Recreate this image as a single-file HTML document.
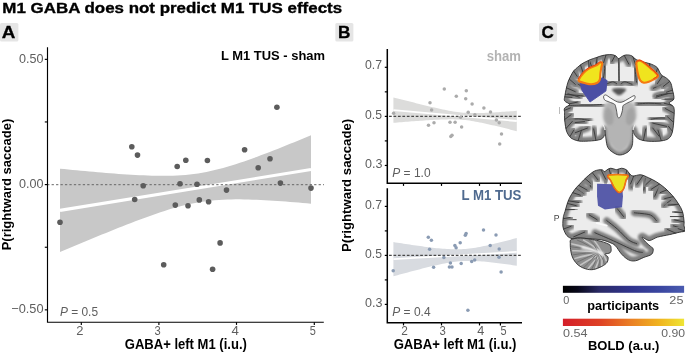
<!DOCTYPE html>
<html><head><meta charset="utf-8"><style>
html,body{margin:0;padding:0;background:#fff;}
svg{display:block;font-family:"Liberation Sans", sans-serif;}
text{opacity:0.999;}
</style></head><body>
<svg width="685" height="353" viewBox="0 0 685 353">
<text x="2.36" y="12.60" font-size="15.3" font-weight="bold" font-style="normal" fill="#000" textLength="339.76" lengthAdjust="spacingAndGlyphs" stroke="#000" stroke-width="0.35">M1 GABA does not predict M1 TUS effects</text>
<rect x="0" y="22.9" width="18.40" height="18.6" rx="1.5" fill="#e5e5e5"/>
<text x="1.83" y="37.80" font-size="16.2" font-weight="bold" font-style="normal" fill="#000" textLength="13.58" lengthAdjust="spacingAndGlyphs" stroke="#000" stroke-width="0.3">A</text>
<rect x="335.3" y="22.9" width="18.10" height="18.6" rx="1.5" fill="#e5e5e5"/>
<text x="338.14" y="37.80" font-size="16.2" font-weight="bold" font-style="normal" fill="#000" textLength="12.43" lengthAdjust="spacingAndGlyphs" stroke="#000" stroke-width="0.3">B</text>
<rect x="539" y="22.9" width="18.10" height="18.6" rx="1.5" fill="#e5e5e5"/>
<text x="541.42" y="37.80" font-size="16.2" font-weight="bold" font-style="normal" fill="#000" textLength="12.35" lengthAdjust="spacingAndGlyphs" stroke="#000" stroke-width="0.3">C</text>
<path d="M60.00,168.70 L64.18,169.11 L68.37,169.52 L72.55,169.92 L76.73,170.32 L80.92,170.71 L85.10,171.09 L89.28,171.47 L93.47,171.85 L97.65,172.21 L101.83,172.57 L106.02,172.91 L110.20,173.25 L114.38,173.57 L118.57,173.88 L122.75,174.18 L126.93,174.46 L131.12,174.72 L135.30,174.96 L139.48,175.18 L143.67,175.37 L147.85,175.53 L152.03,175.66 L156.22,175.75 L160.40,175.80 L164.58,175.80 L168.77,175.75 L172.95,175.64 L177.13,175.46 L181.32,175.22 L185.50,174.89 L189.68,174.48 L193.87,173.98 L198.05,173.39 L202.23,172.70 L206.42,171.92 L210.60,171.05 L214.78,170.09 L218.97,169.05 L223.15,167.93 L227.33,166.74 L231.52,165.48 L235.70,164.16 L239.88,162.79 L244.07,161.38 L248.25,159.92 L252.43,158.43 L256.62,156.90 L260.80,155.34 L264.98,153.76 L269.17,152.15 L273.35,150.53 L277.53,148.88 L281.72,147.22 L285.90,145.55 L290.08,143.86 L294.27,142.16 L298.45,140.45 L302.63,138.73 L306.82,137.00 L311.00,135.26 L311.00,203.71 L306.82,203.34 L302.63,202.97 L298.45,202.62 L294.27,202.27 L290.08,201.93 L285.90,201.61 L281.72,201.30 L277.53,201.00 L273.35,200.72 L269.17,200.46 L264.98,200.22 L260.80,200.00 L256.62,199.81 L252.43,199.64 L248.25,199.51 L244.07,199.42 L239.88,199.36 L235.70,199.36 L231.52,199.41 L227.33,199.51 L223.15,199.68 L218.97,199.93 L214.78,200.25 L210.60,200.65 L206.42,201.14 L202.23,201.73 L198.05,202.41 L193.87,203.18 L189.68,204.05 L185.50,205.00 L181.32,206.04 L177.13,207.15 L172.95,208.34 L168.77,209.59 L164.58,210.91 L160.40,212.27 L156.22,213.68 L152.03,215.14 L147.85,216.63 L143.67,218.16 L139.48,219.71 L135.30,221.29 L131.12,222.90 L126.93,224.52 L122.75,226.17 L118.57,227.83 L114.38,229.50 L110.20,231.19 L106.02,232.89 L101.83,234.60 L97.65,236.32 L93.47,238.04 L89.28,239.78 L85.10,241.52 L80.92,243.27 L76.73,245.03 L72.55,246.79 L68.37,248.56 L64.18,250.33 L60.00,252.10Z" fill="#c8c8c8"/>
<line x1="60" y1="210.4" x2="311" y2="169.487" stroke="#fff" stroke-width="3.1" />
<line x1="47.5" y1="184.7" x2="324" y2="184.7" stroke="#666" stroke-width="1" stroke-dasharray="2.3 2.15" stroke-dashoffset="0.35"/>
<circle cx="60" cy="222.3" r="2.8" fill="#5c5c5c"/>
<circle cx="131.8" cy="146.7" r="2.8" fill="#5c5c5c"/>
<circle cx="137.5" cy="155.1" r="2.8" fill="#5c5c5c"/>
<circle cx="143.2" cy="185.8" r="2.8" fill="#5c5c5c"/>
<circle cx="134.7" cy="199.5" r="2.8" fill="#5c5c5c"/>
<circle cx="175.3" cy="205.1" r="2.8" fill="#5c5c5c"/>
<circle cx="177.2" cy="166.5" r="2.8" fill="#5c5c5c"/>
<circle cx="180" cy="183.8" r="2.8" fill="#5c5c5c"/>
<circle cx="185.8" cy="160.3" r="2.8" fill="#5c5c5c"/>
<circle cx="188" cy="205.7" r="2.8" fill="#5c5c5c"/>
<circle cx="197" cy="184.2" r="2.8" fill="#5c5c5c"/>
<circle cx="199.3" cy="199.9" r="2.8" fill="#5c5c5c"/>
<circle cx="207.4" cy="160.5" r="2.8" fill="#5c5c5c"/>
<circle cx="208.6" cy="201.7" r="2.8" fill="#5c5c5c"/>
<circle cx="226.5" cy="190.1" r="2.8" fill="#5c5c5c"/>
<circle cx="244.6" cy="149.8" r="2.8" fill="#5c5c5c"/>
<circle cx="258.2" cy="167.8" r="2.8" fill="#5c5c5c"/>
<circle cx="270" cy="158.7" r="2.8" fill="#5c5c5c"/>
<circle cx="276.9" cy="107.2" r="2.8" fill="#5c5c5c"/>
<circle cx="280.4" cy="183.1" r="2.8" fill="#5c5c5c"/>
<circle cx="311" cy="188.1" r="2.8" fill="#5c5c5c"/>
<circle cx="163.7" cy="264.7" r="2.8" fill="#5c5c5c"/>
<circle cx="212.6" cy="269.2" r="2.8" fill="#5c5c5c"/>
<circle cx="220.1" cy="242.9" r="2.8" fill="#5c5c5c"/>
<path d="M47.5,47.2 V322.2 H323.8" fill="none" stroke="#000" stroke-width="1.15"/>
<line x1="44.8" y1="59.35" x2="47.5" y2="59.35" stroke="#000" stroke-width="1.15" />
<line x1="44.8" y1="121.95" x2="47.5" y2="121.95" stroke="#000" stroke-width="1.15" />
<line x1="44.8" y1="184.6" x2="47.5" y2="184.6" stroke="#000" stroke-width="1.15" />
<line x1="44.8" y1="247.25" x2="47.5" y2="247.25" stroke="#000" stroke-width="1.15" />
<line x1="44.8" y1="309.85" x2="47.5" y2="309.85" stroke="#000" stroke-width="1.15" />
<line x1="81.3" y1="322.2" x2="81.3" y2="324.9" stroke="#000" stroke-width="1.15" />
<line x1="158.9" y1="322.2" x2="158.9" y2="324.9" stroke="#000" stroke-width="1.15" />
<line x1="236.5" y1="322.2" x2="236.5" y2="324.9" stroke="#000" stroke-width="1.15" />
<line x1="314.3" y1="322.2" x2="314.3" y2="324.9" stroke="#000" stroke-width="1.15" />
<text x="19.10" y="62.70" font-size="12.7" font-weight="normal" font-style="normal" fill="#5e5e5e" textLength="24.49" lengthAdjust="spacingAndGlyphs" >0.50</text>
<text x="19.10" y="187.95" font-size="12.7" font-weight="normal" font-style="normal" fill="#5e5e5e" textLength="24.49" lengthAdjust="spacingAndGlyphs" >0.00</text>
<text x="11.26" y="313.10" font-size="12.7" font-weight="normal" font-style="normal" fill="#5e5e5e" textLength="32.32" lengthAdjust="spacingAndGlyphs" >−0.50</text>
<text x="76.15" y="334.50" font-size="12.7" font-weight="normal" font-style="normal" fill="#5e5e5e" textLength="7.21" lengthAdjust="spacingAndGlyphs" >2</text>
<text x="154.48" y="334.50" font-size="12.7" font-weight="normal" font-style="normal" fill="#5e5e5e" textLength="6.21" lengthAdjust="spacingAndGlyphs" >3</text>
<text x="231.60" y="334.50" font-size="12.7" font-weight="normal" font-style="normal" fill="#5e5e5e" textLength="7.38" lengthAdjust="spacingAndGlyphs" >4</text>
<text x="309.66" y="334.50" font-size="12.7" font-weight="normal" font-style="normal" fill="#5e5e5e" textLength="6.09" lengthAdjust="spacingAndGlyphs" >5</text>
<text x="221.03" y="59.60" font-size="13.6" font-weight="bold" font-style="normal" fill="#000" textLength="103.97" lengthAdjust="spacingAndGlyphs" >L M1 TUS - sham</text>
<text x="59.95" y="316" font-size="12.2" fill="#5e5e5e" textLength="38.07" lengthAdjust="spacingAndGlyphs"><tspan font-style="italic">P</tspan> = 0.5</text>
<text x="124.78" y="349.00" font-size="13.8" font-weight="bold" font-style="normal" fill="#000" textLength="122.09" lengthAdjust="spacingAndGlyphs" >GABA+ left M1 (i.u.)</text>
<text transform="translate(10.90,249.50) rotate(-90)" x="-0.88" y="0" font-size="12.6" font-weight="bold" fill="#000" textLength="131.72" lengthAdjust="spacingAndGlyphs">P(rightward saccade)</text>
<path d="M393.40,97.38 L395.46,97.91 L397.51,98.43 L399.57,98.96 L401.63,99.49 L403.68,100.01 L405.74,100.53 L407.80,101.06 L409.85,101.58 L411.91,102.10 L413.97,102.61 L416.02,103.13 L418.08,103.64 L420.14,104.15 L422.19,104.65 L424.25,105.16 L426.31,105.66 L428.36,106.15 L430.42,106.64 L432.48,107.13 L434.53,107.61 L436.59,108.08 L438.65,108.54 L440.70,108.99 L442.76,109.43 L444.82,109.86 L446.87,110.27 L448.93,110.66 L450.99,111.04 L453.04,111.39 L455.10,111.71 L457.16,112.00 L459.21,112.26 L461.27,112.49 L463.33,112.67 L465.38,112.83 L467.44,112.94 L469.50,113.03 L471.55,113.08 L473.61,113.10 L475.67,113.10 L477.72,113.08 L479.78,113.04 L481.84,112.98 L483.89,112.91 L485.95,112.82 L488.01,112.73 L490.06,112.62 L492.12,112.51 L494.18,112.39 L496.23,112.27 L498.29,112.14 L500.35,112.00 L502.40,111.87 L504.46,111.72 L506.52,111.58 L508.57,111.43 L510.63,111.28 L512.69,111.13 L514.74,110.97 L516.80,110.82 L516.80,131.18 L514.74,130.66 L512.69,130.15 L510.63,129.63 L508.57,129.12 L506.52,128.61 L504.46,128.10 L502.40,127.59 L500.35,127.09 L498.29,126.59 L496.23,126.10 L494.18,125.61 L492.12,125.13 L490.06,124.65 L488.01,124.18 L485.95,123.73 L483.89,123.28 L481.84,122.84 L479.78,122.42 L477.72,122.02 L475.67,121.63 L473.61,121.27 L471.55,120.93 L469.50,120.62 L467.44,120.34 L465.38,120.09 L463.33,119.88 L461.27,119.70 L459.21,119.57 L457.16,119.46 L455.10,119.39 L453.04,119.35 L450.99,119.34 L448.93,119.35 L446.87,119.38 L444.82,119.42 L442.76,119.49 L440.70,119.57 L438.65,119.66 L436.59,119.75 L434.53,119.86 L432.48,119.98 L430.42,120.10 L428.36,120.22 L426.31,120.36 L424.25,120.49 L422.19,120.63 L420.14,120.78 L418.08,120.92 L416.02,121.07 L413.97,121.22 L411.91,121.37 L409.85,121.53 L407.80,121.69 L405.74,121.85 L403.68,122.01 L401.63,122.17 L399.57,122.33 L397.51,122.49 L395.46,122.66 L393.40,122.82Z" fill="#dcdcdb"/>
<line x1="393.4" y1="110.1" x2="516.8" y2="121" stroke="#fff" stroke-width="1.8" />
<line x1="387.3" y1="116.4" x2="521.5" y2="116.4" stroke="#484848" stroke-width="1.1" stroke-dasharray="2.7 1.75" stroke-dashoffset="2.7"/>
<circle cx="393.6" cy="113.3" r="1.75" fill="#ababab"/>
<circle cx="430" cy="102.7" r="1.75" fill="#ababab"/>
<circle cx="431.6" cy="110" r="1.75" fill="#ababab"/>
<circle cx="428.5" cy="125.2" r="1.75" fill="#ababab"/>
<circle cx="434" cy="122.7" r="1.75" fill="#ababab"/>
<circle cx="444.3" cy="89" r="1.75" fill="#ababab"/>
<circle cx="450" cy="122.3" r="1.75" fill="#ababab"/>
<circle cx="455.1" cy="122.3" r="1.75" fill="#ababab"/>
<circle cx="450.8" cy="136.6" r="1.75" fill="#ababab"/>
<circle cx="452" cy="135.2" r="1.75" fill="#ababab"/>
<circle cx="456.3" cy="96.3" r="1.75" fill="#ababab"/>
<circle cx="460.6" cy="117.2" r="1.75" fill="#ababab"/>
<circle cx="461.6" cy="127" r="1.75" fill="#ababab"/>
<circle cx="466.3" cy="90.8" r="1.75" fill="#ababab"/>
<circle cx="465.7" cy="98.8" r="1.75" fill="#ababab"/>
<circle cx="468.2" cy="112.3" r="1.75" fill="#ababab"/>
<circle cx="472.1" cy="103.9" r="1.75" fill="#ababab"/>
<circle cx="474.9" cy="114.7" r="1.75" fill="#ababab"/>
<circle cx="483.9" cy="108" r="1.75" fill="#ababab"/>
<circle cx="490.5" cy="111.9" r="1.75" fill="#ababab"/>
<circle cx="496.4" cy="119.9" r="1.75" fill="#ababab"/>
<circle cx="499.2" cy="122.7" r="1.75" fill="#ababab"/>
<circle cx="501.5" cy="134" r="1.75" fill="#ababab"/>
<circle cx="499.7" cy="144" r="1.75" fill="#ababab"/>
<path d="M387.3,49.1 V183.3 H522" fill="none" stroke="#000" stroke-width="1.5"/>
<line x1="384.8" y1="67.3" x2="387.3" y2="67.3" stroke="#000" stroke-width="1.2" />
<line x1="384.8" y1="91.85" x2="387.3" y2="91.85" stroke="#000" stroke-width="1.2" />
<line x1="384.8" y1="116.4" x2="387.3" y2="116.4" stroke="#000" stroke-width="1.2" />
<line x1="384.8" y1="140.9" x2="387.3" y2="140.9" stroke="#000" stroke-width="1.2" />
<line x1="384.8" y1="165.45" x2="387.3" y2="165.45" stroke="#000" stroke-width="1.2" />
<line x1="403.5" y1="183.3" x2="403.5" y2="185.9" stroke="#000" stroke-width="1.2" />
<line x1="441.5" y1="183.3" x2="441.5" y2="185.9" stroke="#000" stroke-width="1.2" />
<line x1="479.5" y1="183.3" x2="479.5" y2="185.9" stroke="#000" stroke-width="1.2" />
<line x1="500.4" y1="183.3" x2="500.4" y2="185.9" stroke="#000" stroke-width="1.2" />
<text x="365.01" y="69.40" font-size="12.8" font-weight="normal" font-style="normal" fill="#5e5e5e" textLength="17.11" lengthAdjust="spacingAndGlyphs" >0.7</text>
<text x="365.01" y="118.50" font-size="12.8" font-weight="normal" font-style="normal" fill="#5e5e5e" textLength="16.98" lengthAdjust="spacingAndGlyphs" >0.5</text>
<text x="365.00" y="167.55" font-size="12.8" font-weight="normal" font-style="normal" fill="#5e5e5e" textLength="17.44" lengthAdjust="spacingAndGlyphs" >0.3</text>
<text x="486.64" y="61.00" font-size="13.8" font-weight="bold" font-style="normal" fill="#b3b3b3" textLength="34.28" lengthAdjust="spacingAndGlyphs" >sham</text>
<text x="392.3" y="177" font-size="12.2" fill="#5e5e5e" textLength="38.3" lengthAdjust="spacingAndGlyphs"><tspan font-style="italic">P</tspan> = 1.0</text>
<path d="M393.40,242.08 L395.46,242.41 L397.51,242.73 L399.57,243.05 L401.63,243.37 L403.68,243.68 L405.74,243.99 L407.80,244.30 L409.85,244.61 L411.91,244.91 L413.97,245.21 L416.02,245.51 L418.08,245.80 L420.14,246.09 L422.19,246.37 L424.25,246.65 L426.31,246.92 L428.36,247.18 L430.42,247.43 L432.48,247.68 L434.53,247.91 L436.59,248.13 L438.65,248.34 L440.70,248.53 L442.76,248.71 L444.82,248.87 L446.87,249.01 L448.93,249.12 L450.99,249.21 L453.04,249.27 L455.10,249.30 L457.16,249.29 L459.21,249.25 L461.27,249.18 L463.33,249.06 L465.38,248.91 L467.44,248.72 L469.50,248.50 L471.55,248.24 L473.61,247.95 L475.67,247.63 L477.72,247.28 L479.78,246.91 L481.84,246.51 L483.89,246.10 L485.95,245.67 L488.01,245.22 L490.06,244.76 L492.12,244.29 L494.18,243.80 L496.23,243.31 L498.29,242.81 L500.35,242.30 L502.40,241.78 L504.46,241.26 L506.52,240.73 L508.57,240.20 L510.63,239.66 L512.69,239.12 L514.74,238.57 L516.80,238.02 L516.80,265.78 L514.74,265.47 L512.69,265.17 L510.63,264.87 L508.57,264.58 L506.52,264.29 L504.46,264.00 L502.40,263.72 L500.35,263.45 L498.29,263.18 L496.23,262.92 L494.18,262.67 L492.12,262.43 L490.06,262.20 L488.01,261.99 L485.95,261.78 L483.89,261.59 L481.84,261.42 L479.78,261.27 L477.72,261.15 L475.67,261.04 L473.61,260.96 L471.55,260.92 L469.50,260.90 L467.44,260.92 L465.38,260.97 L463.33,261.07 L461.27,261.19 L459.21,261.36 L457.16,261.56 L455.10,261.80 L453.04,262.07 L450.99,262.38 L448.93,262.71 L446.87,263.07 L444.82,263.45 L442.76,263.85 L440.70,264.27 L438.65,264.71 L436.59,265.16 L434.53,265.62 L432.48,266.10 L430.42,266.59 L428.36,267.09 L426.31,267.59 L424.25,268.10 L422.19,268.62 L420.14,269.15 L418.08,269.68 L416.02,270.21 L413.97,270.75 L411.91,271.30 L409.85,271.84 L407.80,272.39 L405.74,272.95 L403.68,273.50 L401.63,274.06 L399.57,274.62 L397.51,275.18 L395.46,275.75 L393.40,276.32Z" fill="#d8dbe0"/>
<line x1="393.4" y1="259.2" x2="516.8" y2="251.9" stroke="#fff" stroke-width="1.8" />
<line x1="387.3" y1="255.4" x2="521.5" y2="255.4" stroke="#484848" stroke-width="1.1" stroke-dasharray="2.7 1.75" stroke-dashoffset="2.7"/>
<circle cx="393.2" cy="270.7" r="1.75" fill="#8a9bb3"/>
<circle cx="428.3" cy="237.2" r="1.75" fill="#8a9bb3"/>
<circle cx="431.4" cy="240.2" r="1.75" fill="#8a9bb3"/>
<circle cx="429.6" cy="249.2" r="1.75" fill="#8a9bb3"/>
<circle cx="433.6" cy="267.2" r="1.75" fill="#8a9bb3"/>
<circle cx="443.9" cy="257.4" r="1.75" fill="#8a9bb3"/>
<circle cx="450.4" cy="262.9" r="1.75" fill="#8a9bb3"/>
<circle cx="449.4" cy="267" r="1.75" fill="#8a9bb3"/>
<circle cx="452" cy="267" r="1.75" fill="#8a9bb3"/>
<circle cx="454.9" cy="245.5" r="1.75" fill="#8a9bb3"/>
<circle cx="456.1" cy="247.8" r="1.75" fill="#8a9bb3"/>
<circle cx="460.2" cy="242.7" r="1.75" fill="#8a9bb3"/>
<circle cx="461.2" cy="263.5" r="1.75" fill="#8a9bb3"/>
<circle cx="465.3" cy="235.3" r="1.75" fill="#8a9bb3"/>
<circle cx="466.1" cy="233.5" r="1.75" fill="#8a9bb3"/>
<circle cx="471.7" cy="261.5" r="1.75" fill="#8a9bb3"/>
<circle cx="474.7" cy="260.1" r="1.75" fill="#8a9bb3"/>
<circle cx="483.5" cy="230" r="1.75" fill="#8a9bb3"/>
<circle cx="490.2" cy="245.5" r="1.75" fill="#8a9bb3"/>
<circle cx="496" cy="234.9" r="1.75" fill="#8a9bb3"/>
<circle cx="499.2" cy="249" r="1.75" fill="#8a9bb3"/>
<circle cx="499" cy="257.2" r="1.75" fill="#8a9bb3"/>
<circle cx="501.1" cy="271.9" r="1.75" fill="#8a9bb3"/>
<circle cx="467.9" cy="310.2" r="1.75" fill="#8a9bb3"/>
<path d="M387.3,188.2 V322.8 H522" fill="none" stroke="#000" stroke-width="1.5"/>
<line x1="384.8" y1="206.4" x2="387.3" y2="206.4" stroke="#000" stroke-width="1.2" />
<line x1="384.8" y1="230.9" x2="387.3" y2="230.9" stroke="#000" stroke-width="1.2" />
<line x1="384.8" y1="255.4" x2="387.3" y2="255.4" stroke="#000" stroke-width="1.2" />
<line x1="384.8" y1="279.9" x2="387.3" y2="279.9" stroke="#000" stroke-width="1.2" />
<line x1="384.8" y1="304.4" x2="387.3" y2="304.4" stroke="#000" stroke-width="1.2" />
<line x1="403.5" y1="322.8" x2="403.5" y2="325.40000000000003" stroke="#000" stroke-width="1.2" />
<line x1="441.5" y1="322.8" x2="441.5" y2="325.40000000000003" stroke="#000" stroke-width="1.2" />
<line x1="479.5" y1="322.8" x2="479.5" y2="325.40000000000003" stroke="#000" stroke-width="1.2" />
<line x1="500.4" y1="322.8" x2="500.4" y2="325.40000000000003" stroke="#000" stroke-width="1.2" />
<text x="365.01" y="208.50" font-size="12.8" font-weight="normal" font-style="normal" fill="#5e5e5e" textLength="17.11" lengthAdjust="spacingAndGlyphs" >0.7</text>
<text x="365.01" y="257.50" font-size="12.8" font-weight="normal" font-style="normal" fill="#5e5e5e" textLength="16.98" lengthAdjust="spacingAndGlyphs" >0.5</text>
<text x="365.00" y="306.50" font-size="12.8" font-weight="normal" font-style="normal" fill="#5e5e5e" textLength="17.44" lengthAdjust="spacingAndGlyphs" >0.3</text>
<text x="461.41" y="200.00" font-size="13.8" font-weight="bold" font-style="normal" fill="#4f6a8f" textLength="60.03" lengthAdjust="spacingAndGlyphs" >L M1 TUS</text>
<text x="392.3" y="315.8" font-size="12.2" fill="#5e5e5e" textLength="38.3" lengthAdjust="spacingAndGlyphs"><tspan font-style="italic">P</tspan> = 0.4</text>
<text x="401.21" y="334.50" font-size="12.7" font-weight="normal" font-style="normal" fill="#5e5e5e" textLength="6.60" lengthAdjust="spacingAndGlyphs" >2</text>
<text x="439.47" y="334.50" font-size="12.7" font-weight="normal" font-style="normal" fill="#5e5e5e" textLength="6.32" lengthAdjust="spacingAndGlyphs" >3</text>
<text x="477.31" y="334.50" font-size="12.7" font-weight="normal" font-style="normal" fill="#5e5e5e" textLength="7.05" lengthAdjust="spacingAndGlyphs" >4</text>
<text x="500.56" y="334.50" font-size="12.7" font-weight="normal" font-style="normal" fill="#5e5e5e" textLength="6.09" lengthAdjust="spacingAndGlyphs" >5</text>
<text x="393.68" y="348.80" font-size="13.8" font-weight="bold" font-style="normal" fill="#000" textLength="122.80" lengthAdjust="spacingAndGlyphs" >GABA+ left M1 (i.u.)</text>
<text transform="translate(350.80,251.10) rotate(-90)" x="-0.89" y="0" font-size="12.6" font-weight="bold" fill="#000" textLength="133.14" lengthAdjust="spacingAndGlyphs">P(rightward saccade)</text>
<defs>
<filter id="bl1" x="-30%" y="-30%" width="160%" height="160%"><feGaussianBlur stdDeviation="6"/></filter>
<filter id="bl2" x="-30%" y="-30%" width="160%" height="160%"><feGaussianBlur stdDeviation="3.2"/></filter>
<filter id="bl4" x="-30%" y="-30%" width="160%" height="160%"><feGaussianBlur stdDeviation="1.6"/></filter>
</defs>
<g transform="translate(560,50) scale(0.3061)">
<clipPath id="ccl"><path d="M191,28 C187.7,27.8 187.0,22.2 183.0,20.0 C179.0,17.8 174.3,15.3 167.0,15.0 C159.7,14.7 147.2,16.3 139.0,18.0 C130.8,19.7 124.5,22.8 118.0,25.0 C111.5,27.2 105.5,28.8 100.0,31.0 C94.5,33.2 89.7,35.7 85.0,38.0 C80.3,40.3 76.5,42.0 72.0,45.0 C67.5,48.0 62.5,52.2 58.0,56.0 C53.5,59.8 48.8,63.2 45.0,68.0 C41.2,72.8 38.2,78.8 35.0,85.0 C31.8,91.2 28.5,97.8 26.0,105.0 C23.5,112.2 21.7,120.5 20.0,128.0 C18.3,135.5 16.8,143.7 16.0,150.0 C15.2,156.3 12.5,161.3 15.0,166.0 C17.5,170.7 31.0,174.0 31.0,178.0 C31.0,182.0 17.7,185.5 15.0,190.0 C12.3,194.5 15.0,199.2 15.0,205.0 C15.0,210.8 14.5,217.5 15.0,225.0 C15.5,232.5 16.8,243.0 18.0,250.0 C19.2,257.0 20.0,261.8 22.0,267.0 C24.0,272.2 27.0,277.2 30.0,281.0 C33.0,284.8 35.0,287.3 40.0,290.0 C45.0,292.7 52.7,295.7 60.0,297.0 C67.3,298.3 74.0,298.3 84.0,298.0 C94.0,297.7 111.0,296.5 120.0,295.0 C129.0,293.5 133.7,292.2 138.0,289.0 C142.3,285.8 144.5,280.5 146.0,276.0 C147.5,271.5 146.3,259.7 147.0,262.0 C147.7,264.3 148.5,280.7 150.0,290.0 C151.5,299.3 152.3,310.7 156.0,318.0 C159.7,325.3 165.8,329.8 172.0,334.0 C178.2,338.2 186.0,342.3 193.0,343.0 C200.0,343.7 208.0,340.8 214.0,338.0 C220.0,335.2 225.2,331.3 229.0,326.0 C232.8,320.7 235.5,316.7 237.0,306.0 C238.5,295.3 237.0,267.0 238.0,262.0 C239.0,257.0 239.7,271.2 243.0,276.0 C246.3,280.8 250.5,287.3 258.0,291.0 C265.5,294.7 276.0,297.0 288.0,298.0 C300.0,299.0 318.8,298.5 330.0,297.0 C341.2,295.5 348.8,293.8 355.0,289.0 C361.2,284.2 364.2,278.5 367.0,268.0 C369.8,257.5 371.2,239.3 372.0,226.0 C372.8,212.7 374.7,196.8 372.0,188.0 C369.3,179.2 356.0,177.7 356.0,173.0 C356.0,168.3 370.2,167.5 372.0,160.0 C373.8,152.5 368.8,137.0 367.0,128.0 C365.2,119.0 364.2,112.0 361.0,106.0 C357.8,100.0 353.2,96.3 348.0,92.0 C342.8,87.7 335.0,85.7 330.0,80.0 C325.0,74.3 323.0,63.5 318.0,58.0 C313.0,52.5 307.0,50.0 300.0,47.0 C293.0,44.0 284.3,42.5 276.0,40.0 C267.7,37.5 257.0,35.5 250.0,32.0 C243.0,28.5 239.7,21.7 234.0,19.0 C228.3,16.3 221.2,15.7 216.0,16.0 C210.8,16.3 207.2,19.0 203.0,21.0 C198.8,23.0 194.3,28.2 191.0,28.0Z"/></clipPath>
<path d="M191,28 C187.7,27.8 187.0,22.2 183.0,20.0 C179.0,17.8 174.3,15.3 167.0,15.0 C159.7,14.7 147.2,16.3 139.0,18.0 C130.8,19.7 124.5,22.8 118.0,25.0 C111.5,27.2 105.5,28.8 100.0,31.0 C94.5,33.2 89.7,35.7 85.0,38.0 C80.3,40.3 76.5,42.0 72.0,45.0 C67.5,48.0 62.5,52.2 58.0,56.0 C53.5,59.8 48.8,63.2 45.0,68.0 C41.2,72.8 38.2,78.8 35.0,85.0 C31.8,91.2 28.5,97.8 26.0,105.0 C23.5,112.2 21.7,120.5 20.0,128.0 C18.3,135.5 16.8,143.7 16.0,150.0 C15.2,156.3 12.5,161.3 15.0,166.0 C17.5,170.7 31.0,174.0 31.0,178.0 C31.0,182.0 17.7,185.5 15.0,190.0 C12.3,194.5 15.0,199.2 15.0,205.0 C15.0,210.8 14.5,217.5 15.0,225.0 C15.5,232.5 16.8,243.0 18.0,250.0 C19.2,257.0 20.0,261.8 22.0,267.0 C24.0,272.2 27.0,277.2 30.0,281.0 C33.0,284.8 35.0,287.3 40.0,290.0 C45.0,292.7 52.7,295.7 60.0,297.0 C67.3,298.3 74.0,298.3 84.0,298.0 C94.0,297.7 111.0,296.5 120.0,295.0 C129.0,293.5 133.7,292.2 138.0,289.0 C142.3,285.8 144.5,280.5 146.0,276.0 C147.5,271.5 146.3,259.7 147.0,262.0 C147.7,264.3 148.5,280.7 150.0,290.0 C151.5,299.3 152.3,310.7 156.0,318.0 C159.7,325.3 165.8,329.8 172.0,334.0 C178.2,338.2 186.0,342.3 193.0,343.0 C200.0,343.7 208.0,340.8 214.0,338.0 C220.0,335.2 225.2,331.3 229.0,326.0 C232.8,320.7 235.5,316.7 237.0,306.0 C238.5,295.3 237.0,267.0 238.0,262.0 C239.0,257.0 239.7,271.2 243.0,276.0 C246.3,280.8 250.5,287.3 258.0,291.0 C265.5,294.7 276.0,297.0 288.0,298.0 C300.0,299.0 318.8,298.5 330.0,297.0 C341.2,295.5 348.8,293.8 355.0,289.0 C361.2,284.2 364.2,278.5 367.0,268.0 C369.8,257.5 371.2,239.3 372.0,226.0 C372.8,212.7 374.7,196.8 372.0,188.0 C369.3,179.2 356.0,177.7 356.0,173.0 C356.0,168.3 370.2,167.5 372.0,160.0 C373.8,152.5 368.8,137.0 367.0,128.0 C365.2,119.0 364.2,112.0 361.0,106.0 C357.8,100.0 353.2,96.3 348.0,92.0 C342.8,87.7 335.0,85.7 330.0,80.0 C325.0,74.3 323.0,63.5 318.0,58.0 C313.0,52.5 307.0,50.0 300.0,47.0 C293.0,44.0 284.3,42.5 276.0,40.0 C267.7,37.5 257.0,35.5 250.0,32.0 C243.0,28.5 239.7,21.7 234.0,19.0 C228.3,16.3 221.2,15.7 216.0,16.0 C210.8,16.3 207.2,19.0 203.0,21.0 C198.8,23.0 194.3,28.2 191.0,28.0Z" fill="#ececec"/>
<g clip-path="url(#ccl)">
<path d="M191,28 C187.7,27.8 187.0,22.2 183.0,20.0 C179.0,17.8 174.3,15.3 167.0,15.0 C159.7,14.7 147.2,16.3 139.0,18.0 C130.8,19.7 124.5,22.8 118.0,25.0 C111.5,27.2 105.5,28.8 100.0,31.0 C94.5,33.2 89.7,35.7 85.0,38.0 C80.3,40.3 76.5,42.0 72.0,45.0 C67.5,48.0 62.5,52.2 58.0,56.0 C53.5,59.8 48.8,63.2 45.0,68.0 C41.2,72.8 38.2,78.8 35.0,85.0 C31.8,91.2 28.5,97.8 26.0,105.0 C23.5,112.2 21.7,120.5 20.0,128.0 C18.3,135.5 16.8,143.7 16.0,150.0 C15.2,156.3 12.5,161.3 15.0,166.0 C17.5,170.7 31.0,174.0 31.0,178.0 C31.0,182.0 17.7,185.5 15.0,190.0 C12.3,194.5 15.0,199.2 15.0,205.0 C15.0,210.8 14.5,217.5 15.0,225.0 C15.5,232.5 16.8,243.0 18.0,250.0 C19.2,257.0 20.0,261.8 22.0,267.0 C24.0,272.2 27.0,277.2 30.0,281.0 C33.0,284.8 35.0,287.3 40.0,290.0 C45.0,292.7 52.7,295.7 60.0,297.0 C67.3,298.3 74.0,298.3 84.0,298.0 C94.0,297.7 111.0,296.5 120.0,295.0 C129.0,293.5 133.7,292.2 138.0,289.0 C142.3,285.8 144.5,280.5 146.0,276.0 C147.5,271.5 146.3,259.7 147.0,262.0 C147.7,264.3 148.5,280.7 150.0,290.0 C151.5,299.3 152.3,310.7 156.0,318.0 C159.7,325.3 165.8,329.8 172.0,334.0 C178.2,338.2 186.0,342.3 193.0,343.0 C200.0,343.7 208.0,340.8 214.0,338.0 C220.0,335.2 225.2,331.3 229.0,326.0 C232.8,320.7 235.5,316.7 237.0,306.0 C238.5,295.3 237.0,267.0 238.0,262.0 C239.0,257.0 239.7,271.2 243.0,276.0 C246.3,280.8 250.5,287.3 258.0,291.0 C265.5,294.7 276.0,297.0 288.0,298.0 C300.0,299.0 318.8,298.5 330.0,297.0 C341.2,295.5 348.8,293.8 355.0,289.0 C361.2,284.2 364.2,278.5 367.0,268.0 C369.8,257.5 371.2,239.3 372.0,226.0 C372.8,212.7 374.7,196.8 372.0,188.0 C369.3,179.2 356.0,177.7 356.0,173.0 C356.0,168.3 370.2,167.5 372.0,160.0 C373.8,152.5 368.8,137.0 367.0,128.0 C365.2,119.0 364.2,112.0 361.0,106.0 C357.8,100.0 353.2,96.3 348.0,92.0 C342.8,87.7 335.0,85.7 330.0,80.0 C325.0,74.3 323.0,63.5 318.0,58.0 C313.0,52.5 307.0,50.0 300.0,47.0 C293.0,44.0 284.3,42.5 276.0,40.0 C267.7,37.5 257.0,35.5 250.0,32.0 C243.0,28.5 239.7,21.7 234.0,19.0 C228.3,16.3 221.2,15.7 216.0,16.0 C210.8,16.3 207.2,19.0 203.0,21.0 C198.8,23.0 194.3,28.2 191.0,28.0Z" fill="none" stroke="#808080" stroke-width="28" filter="url(#bl2)"/>
<path d="M150,175 C159.2,166.7 180.0,165.0 195.0,165.0 C210.0,165.0 230.8,166.7 240.0,175.0 C249.2,183.3 250.3,202.5 250.0,215.0 C249.7,227.5 241.0,235.8 238.0,250.0 C235.0,264.2 239.2,285.8 232.0,300.0 C224.8,314.2 207.3,335.0 195.0,335.0 C182.7,335.0 165.5,314.2 158.0,300.0 C150.5,285.8 153.0,264.2 150.0,250.0 C147.0,235.8 140.0,227.5 140.0,215.0 C140.0,202.5 140.8,183.3 150.0,175.0Z" fill="#b4b4b4" filter="url(#bl1)"/>
<path d="M152,190 C156.0,185.8 166.3,192.5 170.0,200.0 C173.7,207.5 175.7,227.5 174.0,235.0 C172.3,242.5 164.7,246.7 160.0,245.0 C155.3,243.3 147.3,234.2 146.0,225.0 C144.7,215.8 148.0,194.2 152.0,190.0Z" fill="#a4a4a4" filter="url(#bl2)"/>
<path d="M238,190 C234.0,185.8 223.7,192.5 220.0,200.0 C216.3,207.5 214.3,227.5 216.0,235.0 C217.7,242.5 225.3,246.7 230.0,245.0 C234.7,243.3 242.7,234.2 244.0,225.0 C245.3,215.8 242.0,194.2 238.0,190.0Z" fill="#a4a4a4" filter="url(#bl2)"/>
<path d="M170,128 C172.0,125.0 185.3,124.0 193.0,124.0 C200.7,124.0 214.0,125.0 216.0,128.0 C218.0,131.0 208.8,138.7 205.0,142.0 C201.2,145.3 197.0,148.0 193.0,148.0 C189.0,148.0 184.8,145.3 181.0,142.0 C177.2,138.7 168.0,131.0 170.0,128.0Z" fill="#555" filter="url(#bl2)"/>
<path d="M192,22 C192.0,28.3 191.8,47.0 192.0,60.0 C192.2,73.0 192.8,93.3 193.0,100.0" stroke="#808080" stroke-width="22" stroke-linecap="round" stroke-linejoin="round" fill="none" filter="url(#bl2)"/>
<path d="M15,182 C22.5,181.7 45.8,180.3 60.0,180.0 C74.2,179.7 87.5,180.3 100.0,180.0 C112.5,179.7 129.2,178.3 135.0,178.0" stroke="#808080" stroke-width="22" stroke-linecap="round" stroke-linejoin="round" fill="none" filter="url(#bl2)"/>
<path d="M375,180 C367.5,179.3 344.2,177.0 330.0,176.0 C315.8,175.0 302.5,174.0 290.0,174.0 C277.5,174.0 260.8,175.7 255.0,176.0" stroke="#808080" stroke-width="22" stroke-linecap="round" stroke-linejoin="round" fill="none" filter="url(#bl2)"/>
<path d="M20,228 C26.7,227.5 47.5,224.7 60.0,225.0 C72.5,225.3 89.2,229.2 95.0,230.0" stroke="#808080" stroke-width="22" stroke-linecap="round" stroke-linejoin="round" fill="none" filter="url(#bl2)"/>
<path d="M372,225 C365.0,224.5 342.3,221.8 330.0,222.0 C317.7,222.2 303.3,225.3 298.0,226.0" stroke="#808080" stroke-width="22" stroke-linecap="round" stroke-linejoin="round" fill="none" filter="url(#bl2)"/>
<path d="M30,95 C36.7,98.8 60.8,113.0 70.0,118.0 C79.2,123.0 82.5,123.8 85.0,125.0" stroke="#808080" stroke-width="22" stroke-linecap="round" stroke-linejoin="round" fill="none" filter="url(#bl2)"/>
<path d="M14,145 C20.8,145.5 44.8,147.2 55.0,148.0 C65.2,148.8 71.7,149.7 75.0,150.0" stroke="#808080" stroke-width="22" stroke-linecap="round" stroke-linejoin="round" fill="none" filter="url(#bl2)"/>
<path d="M360,100 C353.3,103.0 329.2,113.8 320.0,118.0 C310.8,122.2 307.5,123.8 305.0,125.0" stroke="#808080" stroke-width="22" stroke-linecap="round" stroke-linejoin="round" fill="none" filter="url(#bl2)"/>
<path d="M375,140 C368.3,140.8 345.0,143.3 335.0,145.0 C325.0,146.7 318.3,149.2 315.0,150.0" stroke="#808080" stroke-width="22" stroke-linecap="round" stroke-linejoin="round" fill="none" filter="url(#bl2)"/>
<path d="M140,18 C141.0,25.0 146.0,46.3 146.0,60.0 C146.0,73.7 141.0,93.3 140.0,100.0" stroke="#808080" stroke-width="22" stroke-linecap="round" stroke-linejoin="round" fill="none" filter="url(#bl2)"/>
<path d="M244,28 C244.3,35.0 245.0,57.2 246.0,70.0 C247.0,82.8 249.3,99.2 250.0,105.0" stroke="#808080" stroke-width="22" stroke-linecap="round" stroke-linejoin="round" fill="none" filter="url(#bl2)"/>
<path d="M96,33 L110,75" stroke="#808080" stroke-width="22" stroke-linecap="round" stroke-linejoin="round" fill="none" filter="url(#bl2)"/>
<path d="M292,45 L296,80" stroke="#808080" stroke-width="22" stroke-linecap="round" stroke-linejoin="round" fill="none" filter="url(#bl2)"/>
<path d="M58,300 L70,262" stroke="#808080" stroke-width="22" stroke-linecap="round" stroke-linejoin="round" fill="none" filter="url(#bl2)"/>
<path d="M332,300 L320,262" stroke="#808080" stroke-width="22" stroke-linecap="round" stroke-linejoin="round" fill="none" filter="url(#bl2)"/>
<path d="M118,298 L110,258" stroke="#808080" stroke-width="22" stroke-linecap="round" stroke-linejoin="round" fill="none" filter="url(#bl2)"/>
<path d="M272,298 L280,258" stroke="#808080" stroke-width="22" stroke-linecap="round" stroke-linejoin="round" fill="none" filter="url(#bl2)"/>
<path d="M150,112 C153.7,110.7 166.2,104.3 172.0,104.0 C177.8,103.7 182.8,109.0 185.0,110.0" stroke="#808080" stroke-width="22" stroke-linecap="round" stroke-linejoin="round" fill="none" filter="url(#bl2)"/>
<path d="M235,112 C231.2,110.7 217.8,104.3 212.0,104.0 C206.2,103.7 202.0,109.0 200.0,110.0" stroke="#808080" stroke-width="22" stroke-linecap="round" stroke-linejoin="round" fill="none" filter="url(#bl2)"/>
<path d="M26,143 L63,154" stroke="#808080" stroke-width="22" stroke-linecap="round" stroke-linejoin="round" fill="none" filter="url(#bl2)"/>
<path d="M351,143 L314,154" stroke="#808080" stroke-width="22" stroke-linecap="round" stroke-linejoin="round" fill="none" filter="url(#bl2)"/>
<path d="M32,239 L80,234" stroke="#808080" stroke-width="22" stroke-linecap="round" stroke-linejoin="round" fill="none" filter="url(#bl2)"/>
<path d="M351,250 L303,239" stroke="#808080" stroke-width="22" stroke-linecap="round" stroke-linejoin="round" fill="none" filter="url(#bl2)"/>
<path d="M48,271 L90,255" stroke="#808080" stroke-width="22" stroke-linecap="round" stroke-linejoin="round" fill="none" filter="url(#bl2)"/>
<path d="M324,282 L303,255" stroke="#808080" stroke-width="22" stroke-linecap="round" stroke-linejoin="round" fill="none" filter="url(#bl2)"/>
<path d="M192,22 C192.0,28.3 191.8,47.0 192.0,60.0 C192.2,73.0 192.8,93.3 193.0,100.0" stroke="#383838" stroke-width="3" stroke-linecap="round" stroke-linejoin="round" fill="none"/>
<path d="M15,182 C22.5,181.7 45.8,180.3 60.0,180.0 C74.2,179.7 87.5,180.3 100.0,180.0 C112.5,179.7 129.2,178.3 135.0,178.0" stroke="#383838" stroke-width="3" stroke-linecap="round" stroke-linejoin="round" fill="none"/>
<path d="M375,180 C367.5,179.3 344.2,177.0 330.0,176.0 C315.8,175.0 302.5,174.0 290.0,174.0 C277.5,174.0 260.8,175.7 255.0,176.0" stroke="#383838" stroke-width="3" stroke-linecap="round" stroke-linejoin="round" fill="none"/>
<path d="M20,228 C26.7,227.5 47.5,224.7 60.0,225.0 C72.5,225.3 89.2,229.2 95.0,230.0" stroke="#383838" stroke-width="3" stroke-linecap="round" stroke-linejoin="round" fill="none"/>
<path d="M372,225 C365.0,224.5 342.3,221.8 330.0,222.0 C317.7,222.2 303.3,225.3 298.0,226.0" stroke="#383838" stroke-width="3" stroke-linecap="round" stroke-linejoin="round" fill="none"/>
<path d="M30,95 C36.7,98.8 60.8,113.0 70.0,118.0 C79.2,123.0 82.5,123.8 85.0,125.0" stroke="#383838" stroke-width="3" stroke-linecap="round" stroke-linejoin="round" fill="none"/>
<path d="M14,145 C20.8,145.5 44.8,147.2 55.0,148.0 C65.2,148.8 71.7,149.7 75.0,150.0" stroke="#383838" stroke-width="3" stroke-linecap="round" stroke-linejoin="round" fill="none"/>
<path d="M360,100 C353.3,103.0 329.2,113.8 320.0,118.0 C310.8,122.2 307.5,123.8 305.0,125.0" stroke="#383838" stroke-width="3" stroke-linecap="round" stroke-linejoin="round" fill="none"/>
<path d="M375,140 C368.3,140.8 345.0,143.3 335.0,145.0 C325.0,146.7 318.3,149.2 315.0,150.0" stroke="#383838" stroke-width="3" stroke-linecap="round" stroke-linejoin="round" fill="none"/>
<path d="M140,18 C141.0,25.0 146.0,46.3 146.0,60.0 C146.0,73.7 141.0,93.3 140.0,100.0" stroke="#383838" stroke-width="3" stroke-linecap="round" stroke-linejoin="round" fill="none"/>
<path d="M244,28 C244.3,35.0 245.0,57.2 246.0,70.0 C247.0,82.8 249.3,99.2 250.0,105.0" stroke="#383838" stroke-width="3" stroke-linecap="round" stroke-linejoin="round" fill="none"/>
<path d="M96,33 L110,75" stroke="#383838" stroke-width="3" stroke-linecap="round" stroke-linejoin="round" fill="none"/>
<path d="M292,45 L296,80" stroke="#383838" stroke-width="3" stroke-linecap="round" stroke-linejoin="round" fill="none"/>
<path d="M58,300 L70,262" stroke="#383838" stroke-width="3" stroke-linecap="round" stroke-linejoin="round" fill="none"/>
<path d="M332,300 L320,262" stroke="#383838" stroke-width="3" stroke-linecap="round" stroke-linejoin="round" fill="none"/>
<path d="M118,298 L110,258" stroke="#383838" stroke-width="3" stroke-linecap="round" stroke-linejoin="round" fill="none"/>
<path d="M272,298 L280,258" stroke="#383838" stroke-width="3" stroke-linecap="round" stroke-linejoin="round" fill="none"/>
<path d="M150,112 C153.7,110.7 166.2,104.3 172.0,104.0 C177.8,103.7 182.8,109.0 185.0,110.0" stroke="#383838" stroke-width="3" stroke-linecap="round" stroke-linejoin="round" fill="none"/>
<path d="M235,112 C231.2,110.7 217.8,104.3 212.0,104.0 C206.2,103.7 202.0,109.0 200.0,110.0" stroke="#383838" stroke-width="3" stroke-linecap="round" stroke-linejoin="round" fill="none"/>
<path d="M26,143 L63,154" stroke="#383838" stroke-width="3" stroke-linecap="round" stroke-linejoin="round" fill="none"/>
<path d="M351,143 L314,154" stroke="#383838" stroke-width="3" stroke-linecap="round" stroke-linejoin="round" fill="none"/>
<path d="M32,239 L80,234" stroke="#383838" stroke-width="3" stroke-linecap="round" stroke-linejoin="round" fill="none"/>
<path d="M351,250 L303,239" stroke="#383838" stroke-width="3" stroke-linecap="round" stroke-linejoin="round" fill="none"/>
<path d="M48,271 L90,255" stroke="#383838" stroke-width="3" stroke-linecap="round" stroke-linejoin="round" fill="none"/>
<path d="M324,282 L303,255" stroke="#383838" stroke-width="3" stroke-linecap="round" stroke-linejoin="round" fill="none"/>
<path d="M181.3,15.4 L169.8,37.3" stroke="#808080" stroke-width="22" stroke-linecap="round" stroke-linejoin="round" fill="none" filter="url(#bl2)"/>
<path d="M151.4,13.0 L142.4,41.6" stroke="#808080" stroke-width="22" stroke-linecap="round" stroke-linejoin="round" fill="none" filter="url(#bl2)"/>
<path d="M121.7,20.0 L117.5,54.9" stroke="#808080" stroke-width="22" stroke-linecap="round" stroke-linejoin="round" fill="none" filter="url(#bl2)"/>
<path d="M92.7,30.3 L95.3,57.5" stroke="#808080" stroke-width="22" stroke-linecap="round" stroke-linejoin="round" fill="none" filter="url(#bl2)"/>
<path d="M65.7,45.1 L76.3,76.0" stroke="#808080" stroke-width="22" stroke-linecap="round" stroke-linejoin="round" fill="none" filter="url(#bl2)"/>
<path d="M42.4,65.4 L56.1,86.1" stroke="#808080" stroke-width="22" stroke-linecap="round" stroke-linejoin="round" fill="none" filter="url(#bl2)"/>
<path d="M27.4,92.5 L50.1,112.2" stroke="#808080" stroke-width="22" stroke-linecap="round" stroke-linejoin="round" fill="none" filter="url(#bl2)"/>
<path d="M17.5,122.0 L49.8,136.0" stroke="#808080" stroke-width="22" stroke-linecap="round" stroke-linejoin="round" fill="none" filter="url(#bl2)"/>
<path d="M11.8,152.7 L39.1,154.9" stroke="#808080" stroke-width="22" stroke-linecap="round" stroke-linejoin="round" fill="none" filter="url(#bl2)"/>
<path d="M24.7,177.0 L56.6,170.3" stroke="#808080" stroke-width="22" stroke-linecap="round" stroke-linejoin="round" fill="none" filter="url(#bl2)"/>
<path d="M11.3,198.5 L34.2,189.1" stroke="#808080" stroke-width="22" stroke-linecap="round" stroke-linejoin="round" fill="none" filter="url(#bl2)"/>
<path d="M12.0,229.4 L36.1,211.5" stroke="#808080" stroke-width="22" stroke-linecap="round" stroke-linejoin="round" fill="none" filter="url(#bl2)"/>
<path d="M16.9,259.7 L40.2,233.3" stroke="#808080" stroke-width="22" stroke-linecap="round" stroke-linejoin="round" fill="none" filter="url(#bl2)"/>
<path d="M30.4,286.6 L44.3,263.0" stroke="#808080" stroke-width="22" stroke-linecap="round" stroke-linejoin="round" fill="none" filter="url(#bl2)"/>
<path d="M369.7,268.9 L354.5,249.4" stroke="#808080" stroke-width="22" stroke-linecap="round" stroke-linejoin="round" fill="none" filter="url(#bl2)"/>
<path d="M373.8,238.6 L351.3,218.7" stroke="#808080" stroke-width="22" stroke-linecap="round" stroke-linejoin="round" fill="none" filter="url(#bl2)"/>
<path d="M375.5,207.9 L344.4,191.5" stroke="#808080" stroke-width="22" stroke-linecap="round" stroke-linejoin="round" fill="none" filter="url(#bl2)"/>
<path d="M367.2,180.8 L340.6,174.1" stroke="#808080" stroke-width="22" stroke-linecap="round" stroke-linejoin="round" fill="none" filter="url(#bl2)"/>
<path d="M375.5,160.4 L342.9,160.3" stroke="#808080" stroke-width="22" stroke-linecap="round" stroke-linejoin="round" fill="none" filter="url(#bl2)"/>
<path d="M371.2,129.6 L347.8,137.9" stroke="#808080" stroke-width="22" stroke-linecap="round" stroke-linejoin="round" fill="none" filter="url(#bl2)"/>
<path d="M361.3,100.5 L337.6,118.9" stroke="#808080" stroke-width="22" stroke-linecap="round" stroke-linejoin="round" fill="none" filter="url(#bl2)"/>
<path d="M337.6,80.3 L318.2,109.7" stroke="#808080" stroke-width="22" stroke-linecap="round" stroke-linejoin="round" fill="none" filter="url(#bl2)"/>
<path d="M320.0,55.6 L311.3,81.6" stroke="#808080" stroke-width="22" stroke-linecap="round" stroke-linejoin="round" fill="none" filter="url(#bl2)"/>
<path d="M293.3,41.0 L291.0,73.5" stroke="#808080" stroke-width="22" stroke-linecap="round" stroke-linejoin="round" fill="none" filter="url(#bl2)"/>
<path d="M263.6,32.4 L267.7,56.9" stroke="#808080" stroke-width="22" stroke-linecap="round" stroke-linejoin="round" fill="none" filter="url(#bl2)"/>
<path d="M237.0,18.7 L246.6,47.1" stroke="#808080" stroke-width="22" stroke-linecap="round" stroke-linejoin="round" fill="none" filter="url(#bl2)"/>
<path d="M208.3,14.7 L224.7,45.8" stroke="#808080" stroke-width="22" stroke-linecap="round" stroke-linejoin="round" fill="none" filter="url(#bl2)"/>
<path d="M181.3,15.4 L169.8,37.3" stroke="#383838" stroke-width="3" stroke-linecap="round" stroke-linejoin="round" fill="none"/>
<path d="M151.4,13.0 L142.4,41.6" stroke="#383838" stroke-width="3" stroke-linecap="round" stroke-linejoin="round" fill="none"/>
<path d="M121.7,20.0 L117.5,54.9" stroke="#383838" stroke-width="3" stroke-linecap="round" stroke-linejoin="round" fill="none"/>
<path d="M92.7,30.3 L95.3,57.5" stroke="#383838" stroke-width="3" stroke-linecap="round" stroke-linejoin="round" fill="none"/>
<path d="M65.7,45.1 L76.3,76.0" stroke="#383838" stroke-width="3" stroke-linecap="round" stroke-linejoin="round" fill="none"/>
<path d="M42.4,65.4 L56.1,86.1" stroke="#383838" stroke-width="3" stroke-linecap="round" stroke-linejoin="round" fill="none"/>
<path d="M27.4,92.5 L50.1,112.2" stroke="#383838" stroke-width="3" stroke-linecap="round" stroke-linejoin="round" fill="none"/>
<path d="M17.5,122.0 L49.8,136.0" stroke="#383838" stroke-width="3" stroke-linecap="round" stroke-linejoin="round" fill="none"/>
<path d="M11.8,152.7 L39.1,154.9" stroke="#383838" stroke-width="3" stroke-linecap="round" stroke-linejoin="round" fill="none"/>
<path d="M24.7,177.0 L56.6,170.3" stroke="#383838" stroke-width="3" stroke-linecap="round" stroke-linejoin="round" fill="none"/>
<path d="M11.3,198.5 L34.2,189.1" stroke="#383838" stroke-width="3" stroke-linecap="round" stroke-linejoin="round" fill="none"/>
<path d="M12.0,229.4 L36.1,211.5" stroke="#383838" stroke-width="3" stroke-linecap="round" stroke-linejoin="round" fill="none"/>
<path d="M16.9,259.7 L40.2,233.3" stroke="#383838" stroke-width="3" stroke-linecap="round" stroke-linejoin="round" fill="none"/>
<path d="M30.4,286.6 L44.3,263.0" stroke="#383838" stroke-width="3" stroke-linecap="round" stroke-linejoin="round" fill="none"/>
<path d="M369.7,268.9 L354.5,249.4" stroke="#383838" stroke-width="3" stroke-linecap="round" stroke-linejoin="round" fill="none"/>
<path d="M373.8,238.6 L351.3,218.7" stroke="#383838" stroke-width="3" stroke-linecap="round" stroke-linejoin="round" fill="none"/>
<path d="M375.5,207.9 L344.4,191.5" stroke="#383838" stroke-width="3" stroke-linecap="round" stroke-linejoin="round" fill="none"/>
<path d="M367.2,180.8 L340.6,174.1" stroke="#383838" stroke-width="3" stroke-linecap="round" stroke-linejoin="round" fill="none"/>
<path d="M375.5,160.4 L342.9,160.3" stroke="#383838" stroke-width="3" stroke-linecap="round" stroke-linejoin="round" fill="none"/>
<path d="M371.2,129.6 L347.8,137.9" stroke="#383838" stroke-width="3" stroke-linecap="round" stroke-linejoin="round" fill="none"/>
<path d="M361.3,100.5 L337.6,118.9" stroke="#383838" stroke-width="3" stroke-linecap="round" stroke-linejoin="round" fill="none"/>
<path d="M337.6,80.3 L318.2,109.7" stroke="#383838" stroke-width="3" stroke-linecap="round" stroke-linejoin="round" fill="none"/>
<path d="M320.0,55.6 L311.3,81.6" stroke="#383838" stroke-width="3" stroke-linecap="round" stroke-linejoin="round" fill="none"/>
<path d="M293.3,41.0 L291.0,73.5" stroke="#383838" stroke-width="3" stroke-linecap="round" stroke-linejoin="round" fill="none"/>
<path d="M263.6,32.4 L267.7,56.9" stroke="#383838" stroke-width="3" stroke-linecap="round" stroke-linejoin="round" fill="none"/>
<path d="M237.0,18.7 L246.6,47.1" stroke="#383838" stroke-width="3" stroke-linecap="round" stroke-linejoin="round" fill="none"/>
<path d="M208.3,14.7 L224.7,45.8" stroke="#383838" stroke-width="3" stroke-linecap="round" stroke-linejoin="round" fill="none"/>
<path d="M143,150 C144.2,148.3 146.5,146.0 150.0,147.0 C153.5,148.0 158.7,152.7 164.0,156.0 C169.3,159.3 177.0,164.5 182.0,167.0 C187.0,169.5 190.0,170.7 194.0,171.0 C198.0,171.3 201.3,170.8 206.0,169.0 C210.7,167.2 216.0,163.3 222.0,160.0 C228.0,156.7 238.2,149.7 242.0,149.0 C245.8,148.3 245.5,153.5 245.0,156.0 C244.5,158.5 242.8,161.3 239.0,164.0 C235.2,166.7 227.2,169.3 222.0,172.0 C216.8,174.7 210.8,177.8 208.0,180.0 C205.2,182.2 205.7,182.2 205.0,185.0 C204.3,187.8 205.0,192.2 204.0,197.0 C203.0,201.8 200.8,209.8 199.0,214.0 C197.2,218.2 194.8,221.5 193.0,222.0 C191.2,222.5 189.3,220.7 188.0,217.0 C186.7,213.3 186.0,205.2 185.0,200.0 C184.0,194.8 183.2,189.8 182.0,186.0 C180.8,182.2 181.5,179.7 178.0,177.0 C174.5,174.3 166.2,172.2 161.0,170.0 C155.8,167.8 150.0,166.2 147.0,164.0 C144.0,161.8 143.7,159.3 143.0,157.0 C142.3,154.7 141.8,151.7 143.0,150.0Z" fill="#fcfcfc" stroke="#3a3a3a" stroke-width="2.6"/>
</g>
<path d="M141,244 C142.0,247.0 146.3,255.2 147.0,262.0 C147.7,268.8 145.3,281.2 145.0,285.0" stroke="#fff" stroke-width="3" fill="none"/>
<path d="M244,244 C243.2,247.0 239.5,255.2 239.0,262.0 C238.5,268.8 240.7,281.2 241.0,285.0" stroke="#fff" stroke-width="3" fill="none"/>
<path d="M191,28 C187.7,27.8 187.0,22.2 183.0,20.0 C179.0,17.8 174.3,15.3 167.0,15.0 C159.7,14.7 147.2,16.3 139.0,18.0 C130.8,19.7 124.5,22.8 118.0,25.0 C111.5,27.2 105.5,28.8 100.0,31.0 C94.5,33.2 89.7,35.7 85.0,38.0 C80.3,40.3 76.5,42.0 72.0,45.0 C67.5,48.0 62.5,52.2 58.0,56.0 C53.5,59.8 48.8,63.2 45.0,68.0 C41.2,72.8 38.2,78.8 35.0,85.0 C31.8,91.2 28.5,97.8 26.0,105.0 C23.5,112.2 21.7,120.5 20.0,128.0 C18.3,135.5 16.8,143.7 16.0,150.0 C15.2,156.3 12.5,161.3 15.0,166.0 C17.5,170.7 31.0,174.0 31.0,178.0 C31.0,182.0 17.7,185.5 15.0,190.0 C12.3,194.5 15.0,199.2 15.0,205.0 C15.0,210.8 14.5,217.5 15.0,225.0 C15.5,232.5 16.8,243.0 18.0,250.0 C19.2,257.0 20.0,261.8 22.0,267.0 C24.0,272.2 27.0,277.2 30.0,281.0 C33.0,284.8 35.0,287.3 40.0,290.0 C45.0,292.7 52.7,295.7 60.0,297.0 C67.3,298.3 74.0,298.3 84.0,298.0 C94.0,297.7 111.0,296.5 120.0,295.0 C129.0,293.5 133.7,292.2 138.0,289.0 C142.3,285.8 144.5,280.5 146.0,276.0 C147.5,271.5 146.3,259.7 147.0,262.0 C147.7,264.3 148.5,280.7 150.0,290.0 C151.5,299.3 152.3,310.7 156.0,318.0 C159.7,325.3 165.8,329.8 172.0,334.0 C178.2,338.2 186.0,342.3 193.0,343.0 C200.0,343.7 208.0,340.8 214.0,338.0 C220.0,335.2 225.2,331.3 229.0,326.0 C232.8,320.7 235.5,316.7 237.0,306.0 C238.5,295.3 237.0,267.0 238.0,262.0 C239.0,257.0 239.7,271.2 243.0,276.0 C246.3,280.8 250.5,287.3 258.0,291.0 C265.5,294.7 276.0,297.0 288.0,298.0 C300.0,299.0 318.8,298.5 330.0,297.0 C341.2,295.5 348.8,293.8 355.0,289.0 C361.2,284.2 364.2,278.5 367.0,268.0 C369.8,257.5 371.2,239.3 372.0,226.0 C372.8,212.7 374.7,196.8 372.0,188.0 C369.3,179.2 356.0,177.7 356.0,173.0 C356.0,168.3 370.2,167.5 372.0,160.0 C373.8,152.5 368.8,137.0 367.0,128.0 C365.2,119.0 364.2,112.0 361.0,106.0 C357.8,100.0 353.2,96.3 348.0,92.0 C342.8,87.7 335.0,85.7 330.0,80.0 C325.0,74.3 323.0,63.5 318.0,58.0 C313.0,52.5 307.0,50.0 300.0,47.0 C293.0,44.0 284.3,42.5 276.0,40.0 C267.7,37.5 257.0,35.5 250.0,32.0 C243.0,28.5 239.7,21.7 234.0,19.0 C228.3,16.3 221.2,15.7 216.0,16.0 C210.8,16.3 207.2,19.0 203.0,21.0 C198.8,23.0 194.3,28.2 191.0,28.0Z" fill="none" stroke="#2a2a2a" stroke-width="2.8"/>
<path d="M64,102 L120,108 L137,90 L154,100 L150,134 L98,170 L72,132Z" fill="#4b4fa4" stroke="#4b4fa4" stroke-width="3" stroke-linejoin="round"/>
<path d="M61,97 C63.0,92.5 70.5,82.0 76.0,76.0 C81.5,70.0 87.2,65.2 94.0,61.0 C100.8,56.8 110.7,54.3 117.0,51.0 C123.3,47.7 128.5,42.3 132.0,41.0 C135.5,39.7 137.5,40.2 138.0,43.0 C138.5,45.8 136.0,52.5 135.0,58.0 C134.0,63.5 132.8,69.5 132.0,76.0 C131.2,82.5 131.7,91.8 130.0,97.0 C128.3,102.2 126.7,104.5 122.0,107.0 C117.3,109.5 108.8,111.8 102.0,112.0 C95.2,112.2 87.3,109.5 81.0,108.0 C74.7,106.5 67.3,104.8 64.0,103.0 C60.7,101.2 59.0,101.5 61.0,97.0Z" fill="#f0e41e" stroke="#f57a12" stroke-width="7"/>
<path d="M61,97 C63.5,93.5 70.5,82.0 76.0,76.0 C81.5,70.0 87.2,65.2 94.0,61.0 C100.8,56.8 110.7,54.3 117.0,51.0 C123.3,47.7 128.5,42.3 132.0,41.0 C135.5,39.7 137.0,42.7 138.0,43.0" fill="none" stroke="#e53a12" stroke-width="3" transform="translate(-2,-2)"/>
<path d="M250,40 C251.8,36.2 257.0,34.0 262.0,35.0 C267.0,36.0 274.3,41.8 280.0,46.0 C285.7,50.2 290.7,55.3 296.0,60.0 C301.3,64.7 308.0,69.7 312.0,74.0 C316.0,78.3 321.0,82.3 320.0,86.0 C319.0,89.7 311.0,93.0 306.0,96.0 C301.0,99.0 295.3,102.2 290.0,104.0 C284.7,105.8 278.7,107.8 274.0,107.0 C269.3,106.2 265.2,103.5 262.0,99.0 C258.8,94.5 256.8,86.8 255.0,80.0 C253.2,73.2 251.8,64.7 251.0,58.0 C250.2,51.3 248.2,43.8 250.0,40.0Z" fill="#f0e41e" stroke="#f57a12" stroke-width="7"/>
<path d="M250,40 C252.0,39.2 257.0,34.0 262.0,35.0 C267.0,36.0 274.3,41.8 280.0,46.0 C285.7,50.2 290.7,55.3 296.0,60.0 C301.3,64.7 308.0,69.7 312.0,74.0 C316.0,78.3 321.0,82.3 320.0,86.0 C319.0,89.7 308.3,94.3 306.0,96.0" fill="none" stroke="#e53a12" stroke-width="3" transform="translate(-1,-2)"/>
</g>
<rect x="559" y="107" width="0.8" height="7" fill="#aaa"/>
<g transform="translate(555,162) scale(0.3117)">
<clipPath id="scl"><path d="M25,197 C25.0,190.5 25.8,181.3 27.0,175.0 C28.2,168.7 29.2,168.0 32.0,159.0 C34.8,150.0 38.8,132.7 44.0,121.0 C49.2,109.3 56.5,98.0 63.0,89.0 C69.5,80.0 76.5,73.8 83.0,67.0 C89.5,60.2 94.7,54.3 102.0,48.0 C109.3,41.7 119.0,32.8 127.0,29.0 C135.0,25.2 144.7,24.7 150.0,25.0 C155.3,25.3 156.2,31.0 159.0,31.0 C161.8,31.0 163.7,26.8 167.0,25.0 C170.3,23.2 174.5,20.2 179.0,20.0 C183.5,19.8 190.5,23.3 194.0,24.0 C197.5,24.7 196.7,24.7 200.0,24.0 C203.3,23.3 209.2,19.8 214.0,20.0 C218.8,20.2 225.0,22.3 229.0,25.0 C233.0,27.7 234.5,32.7 238.0,36.0 C241.5,39.3 243.8,44.2 250.0,45.0 C256.2,45.8 266.5,40.0 275.0,41.0 C283.5,42.0 292.5,47.2 301.0,51.0 C309.5,54.8 317.5,58.7 326.0,64.0 C334.5,69.3 343.5,75.7 352.0,83.0 C360.5,90.3 369.7,99.5 377.0,108.0 C384.3,116.5 390.7,125.5 396.0,134.0 C401.3,142.5 406.0,149.7 409.0,159.0 C412.0,168.3 413.2,182.3 414.0,190.0 C414.8,197.7 413.5,199.8 414.0,205.0 C414.5,210.2 419.3,217.7 417.0,221.0 C414.7,224.3 408.3,223.0 400.0,225.0 C391.7,227.0 378.8,230.3 367.0,233.0 C355.2,235.7 339.8,237.8 329.0,241.0 C318.2,244.2 310.2,252.0 302.0,252.0 C293.8,252.0 281.8,240.2 280.0,241.0 C278.2,241.8 286.5,252.0 291.0,257.0 C295.5,262.0 303.0,267.3 307.0,271.0 C311.0,274.7 314.5,274.8 315.0,279.0 C315.5,283.2 315.0,291.5 310.0,296.0 C305.0,300.5 293.7,302.5 285.0,306.0 C276.3,309.5 266.2,315.7 258.0,317.0 C249.8,318.3 243.3,317.5 236.0,314.0 C228.7,310.5 221.2,303.7 214.0,296.0 C206.8,288.3 199.5,274.3 193.0,268.0 C186.5,261.7 182.2,261.0 175.0,258.0 C167.8,255.0 160.8,252.0 150.0,250.0 C139.2,248.0 123.2,247.0 110.0,246.0 C96.8,245.0 80.2,244.0 71.0,244.0 C61.8,244.0 60.5,247.3 55.0,246.0 C49.5,244.7 42.7,241.3 38.0,236.0 C33.3,230.7 29.2,220.5 27.0,214.0 C24.8,207.5 25.0,203.5 25.0,197.0Z"/></clipPath>
<clipPath id="ccer"><path d="M49,261 C49.2,254.5 46.5,251.8 52.0,249.0 C57.5,246.2 68.5,243.7 82.0,244.0 C95.5,244.3 117.8,247.7 133.0,251.0 C148.2,254.3 165.2,259.5 173.0,264.0 C180.8,268.5 179.3,273.5 180.0,278.0 C180.7,282.5 180.3,288.0 177.0,291.0 C173.7,294.0 161.2,293.7 160.0,296.0 C158.8,298.3 168.8,300.7 170.0,305.0 C171.2,309.3 170.3,317.0 167.0,322.0 C163.7,327.0 157.3,331.2 150.0,335.0 C142.7,338.8 131.5,343.7 123.0,345.0 C114.5,346.3 106.8,345.2 99.0,343.0 C91.2,340.8 82.7,337.2 76.0,332.0 C69.3,326.8 63.2,319.3 59.0,312.0 C54.8,304.7 52.7,296.5 51.0,288.0 C49.3,279.5 48.8,267.5 49.0,261.0Z"/></clipPath>
<path d="M25,197 C25.0,190.5 25.8,181.3 27.0,175.0 C28.2,168.7 29.2,168.0 32.0,159.0 C34.8,150.0 38.8,132.7 44.0,121.0 C49.2,109.3 56.5,98.0 63.0,89.0 C69.5,80.0 76.5,73.8 83.0,67.0 C89.5,60.2 94.7,54.3 102.0,48.0 C109.3,41.7 119.0,32.8 127.0,29.0 C135.0,25.2 144.7,24.7 150.0,25.0 C155.3,25.3 156.2,31.0 159.0,31.0 C161.8,31.0 163.7,26.8 167.0,25.0 C170.3,23.2 174.5,20.2 179.0,20.0 C183.5,19.8 190.5,23.3 194.0,24.0 C197.5,24.7 196.7,24.7 200.0,24.0 C203.3,23.3 209.2,19.8 214.0,20.0 C218.8,20.2 225.0,22.3 229.0,25.0 C233.0,27.7 234.5,32.7 238.0,36.0 C241.5,39.3 243.8,44.2 250.0,45.0 C256.2,45.8 266.5,40.0 275.0,41.0 C283.5,42.0 292.5,47.2 301.0,51.0 C309.5,54.8 317.5,58.7 326.0,64.0 C334.5,69.3 343.5,75.7 352.0,83.0 C360.5,90.3 369.7,99.5 377.0,108.0 C384.3,116.5 390.7,125.5 396.0,134.0 C401.3,142.5 406.0,149.7 409.0,159.0 C412.0,168.3 413.2,182.3 414.0,190.0 C414.8,197.7 413.5,199.8 414.0,205.0 C414.5,210.2 419.3,217.7 417.0,221.0 C414.7,224.3 408.3,223.0 400.0,225.0 C391.7,227.0 378.8,230.3 367.0,233.0 C355.2,235.7 339.8,237.8 329.0,241.0 C318.2,244.2 310.2,252.0 302.0,252.0 C293.8,252.0 281.8,240.2 280.0,241.0 C278.2,241.8 286.5,252.0 291.0,257.0 C295.5,262.0 303.0,267.3 307.0,271.0 C311.0,274.7 314.5,274.8 315.0,279.0 C315.5,283.2 315.0,291.5 310.0,296.0 C305.0,300.5 293.7,302.5 285.0,306.0 C276.3,309.5 266.2,315.7 258.0,317.0 C249.8,318.3 243.3,317.5 236.0,314.0 C228.7,310.5 221.2,303.7 214.0,296.0 C206.8,288.3 199.5,274.3 193.0,268.0 C186.5,261.7 182.2,261.0 175.0,258.0 C167.8,255.0 160.8,252.0 150.0,250.0 C139.2,248.0 123.2,247.0 110.0,246.0 C96.8,245.0 80.2,244.0 71.0,244.0 C61.8,244.0 60.5,247.3 55.0,246.0 C49.5,244.7 42.7,241.3 38.0,236.0 C33.3,230.7 29.2,220.5 27.0,214.0 C24.8,207.5 25.0,203.5 25.0,197.0Z" fill="#ececec"/>
<g clip-path="url(#scl)">
<path d="M25,197 C25.0,190.5 25.8,181.3 27.0,175.0 C28.2,168.7 29.2,168.0 32.0,159.0 C34.8,150.0 38.8,132.7 44.0,121.0 C49.2,109.3 56.5,98.0 63.0,89.0 C69.5,80.0 76.5,73.8 83.0,67.0 C89.5,60.2 94.7,54.3 102.0,48.0 C109.3,41.7 119.0,32.8 127.0,29.0 C135.0,25.2 144.7,24.7 150.0,25.0 C155.3,25.3 156.2,31.0 159.0,31.0 C161.8,31.0 163.7,26.8 167.0,25.0 C170.3,23.2 174.5,20.2 179.0,20.0 C183.5,19.8 190.5,23.3 194.0,24.0 C197.5,24.7 196.7,24.7 200.0,24.0 C203.3,23.3 209.2,19.8 214.0,20.0 C218.8,20.2 225.0,22.3 229.0,25.0 C233.0,27.7 234.5,32.7 238.0,36.0 C241.5,39.3 243.8,44.2 250.0,45.0 C256.2,45.8 266.5,40.0 275.0,41.0 C283.5,42.0 292.5,47.2 301.0,51.0 C309.5,54.8 317.5,58.7 326.0,64.0 C334.5,69.3 343.5,75.7 352.0,83.0 C360.5,90.3 369.7,99.5 377.0,108.0 C384.3,116.5 390.7,125.5 396.0,134.0 C401.3,142.5 406.0,149.7 409.0,159.0 C412.0,168.3 413.2,182.3 414.0,190.0 C414.8,197.7 413.5,199.8 414.0,205.0 C414.5,210.2 419.3,217.7 417.0,221.0 C414.7,224.3 408.3,223.0 400.0,225.0 C391.7,227.0 378.8,230.3 367.0,233.0 C355.2,235.7 339.8,237.8 329.0,241.0 C318.2,244.2 310.2,252.0 302.0,252.0 C293.8,252.0 281.8,240.2 280.0,241.0 C278.2,241.8 286.5,252.0 291.0,257.0 C295.5,262.0 303.0,267.3 307.0,271.0 C311.0,274.7 314.5,274.8 315.0,279.0 C315.5,283.2 315.0,291.5 310.0,296.0 C305.0,300.5 293.7,302.5 285.0,306.0 C276.3,309.5 266.2,315.7 258.0,317.0 C249.8,318.3 243.3,317.5 236.0,314.0 C228.7,310.5 221.2,303.7 214.0,296.0 C206.8,288.3 199.5,274.3 193.0,268.0 C186.5,261.7 182.2,261.0 175.0,258.0 C167.8,255.0 160.8,252.0 150.0,250.0 C139.2,248.0 123.2,247.0 110.0,246.0 C96.8,245.0 80.2,244.0 71.0,244.0 C61.8,244.0 60.5,247.3 55.0,246.0 C49.5,244.7 42.7,241.3 38.0,236.0 C33.3,230.7 29.2,220.5 27.0,214.0 C24.8,207.5 25.0,203.5 25.0,197.0Z" fill="none" stroke="#808080" stroke-width="28" filter="url(#bl2)"/>
<path d="M55,75 L90,100" stroke="#808080" stroke-width="22" stroke-linecap="round" stroke-linejoin="round" fill="none" filter="url(#bl2)"/>
<path d="M28,130 L68,140" stroke="#808080" stroke-width="22" stroke-linecap="round" stroke-linejoin="round" fill="none" filter="url(#bl2)"/>
<path d="M28,185 L68,185" stroke="#808080" stroke-width="22" stroke-linecap="round" stroke-linejoin="round" fill="none" filter="url(#bl2)"/>
<path d="M100,45 L115,80" stroke="#808080" stroke-width="22" stroke-linecap="round" stroke-linejoin="round" fill="none" filter="url(#bl2)"/>
<path d="M159,31 L165,60" stroke="#808080" stroke-width="22" stroke-linecap="round" stroke-linejoin="round" fill="none" filter="url(#bl2)"/>
<path d="M238,36 L245,80" stroke="#808080" stroke-width="22" stroke-linecap="round" stroke-linejoin="round" fill="none" filter="url(#bl2)"/>
<path d="M290,52 L285,90" stroke="#808080" stroke-width="22" stroke-linecap="round" stroke-linejoin="round" fill="none" filter="url(#bl2)"/>
<path d="M335,75 L320,110" stroke="#808080" stroke-width="22" stroke-linecap="round" stroke-linejoin="round" fill="none" filter="url(#bl2)"/>
<path d="M380,115 L350,140" stroke="#808080" stroke-width="22" stroke-linecap="round" stroke-linejoin="round" fill="none" filter="url(#bl2)"/>
<path d="M410,175 L370,175" stroke="#808080" stroke-width="22" stroke-linecap="round" stroke-linejoin="round" fill="none" filter="url(#bl2)"/>
<path d="M415,215 L380,205" stroke="#808080" stroke-width="22" stroke-linecap="round" stroke-linejoin="round" fill="none" filter="url(#bl2)"/>
<path d="M60,240 L95,225" stroke="#808080" stroke-width="22" stroke-linecap="round" stroke-linejoin="round" fill="none" filter="url(#bl2)"/>
<path d="M166,188 C171.7,192.5 188.3,204.7 200.0,215.0 C211.7,225.3 225.7,242.2 236.0,250.0 C246.3,257.8 257.7,260.0 262.0,262.0" stroke="#808080" stroke-width="22" stroke-linecap="round" stroke-linejoin="round" fill="none" filter="url(#bl2)"/>
<path d="M128,227 C136.5,230.7 157.8,239.5 179.0,249.0 C200.2,258.5 238.2,277.2 255.0,284.0 C271.8,290.8 275.8,289.0 280.0,290.0" stroke="#808080" stroke-width="22" stroke-linecap="round" stroke-linejoin="round" fill="none" filter="url(#bl2)"/>
<path d="M255,163 C263.5,164.2 294.3,165.8 306.0,170.0 C317.7,174.2 321.8,185.0 325.0,188.0" stroke="#808080" stroke-width="22" stroke-linecap="round" stroke-linejoin="round" fill="none" filter="url(#bl2)"/>
<path d="M200,150 L220,175" stroke="#808080" stroke-width="22" stroke-linecap="round" stroke-linejoin="round" fill="none" filter="url(#bl2)"/>
<path d="M110,170 L135,185" stroke="#808080" stroke-width="22" stroke-linecap="round" stroke-linejoin="round" fill="none" filter="url(#bl2)"/>
<path d="M55,75 L90,100" stroke="#383838" stroke-width="3" stroke-linecap="round" stroke-linejoin="round" fill="none"/>
<path d="M28,130 L68,140" stroke="#383838" stroke-width="3" stroke-linecap="round" stroke-linejoin="round" fill="none"/>
<path d="M28,185 L68,185" stroke="#383838" stroke-width="3" stroke-linecap="round" stroke-linejoin="round" fill="none"/>
<path d="M100,45 L115,80" stroke="#383838" stroke-width="3" stroke-linecap="round" stroke-linejoin="round" fill="none"/>
<path d="M159,31 L165,60" stroke="#383838" stroke-width="3" stroke-linecap="round" stroke-linejoin="round" fill="none"/>
<path d="M238,36 L245,80" stroke="#383838" stroke-width="3" stroke-linecap="round" stroke-linejoin="round" fill="none"/>
<path d="M290,52 L285,90" stroke="#383838" stroke-width="3" stroke-linecap="round" stroke-linejoin="round" fill="none"/>
<path d="M335,75 L320,110" stroke="#383838" stroke-width="3" stroke-linecap="round" stroke-linejoin="round" fill="none"/>
<path d="M380,115 L350,140" stroke="#383838" stroke-width="3" stroke-linecap="round" stroke-linejoin="round" fill="none"/>
<path d="M410,175 L370,175" stroke="#383838" stroke-width="3" stroke-linecap="round" stroke-linejoin="round" fill="none"/>
<path d="M415,215 L380,205" stroke="#383838" stroke-width="3" stroke-linecap="round" stroke-linejoin="round" fill="none"/>
<path d="M60,240 L95,225" stroke="#383838" stroke-width="3" stroke-linecap="round" stroke-linejoin="round" fill="none"/>
<path d="M166,188 C171.7,192.5 188.3,204.7 200.0,215.0 C211.7,225.3 225.7,242.2 236.0,250.0 C246.3,257.8 257.7,260.0 262.0,262.0" stroke="#383838" stroke-width="3" stroke-linecap="round" stroke-linejoin="round" fill="none"/>
<path d="M128,227 C136.5,230.7 157.8,239.5 179.0,249.0 C200.2,258.5 238.2,277.2 255.0,284.0 C271.8,290.8 275.8,289.0 280.0,290.0" stroke="#383838" stroke-width="3" stroke-linecap="round" stroke-linejoin="round" fill="none"/>
<path d="M255,163 C263.5,164.2 294.3,165.8 306.0,170.0 C317.7,174.2 321.8,185.0 325.0,188.0" stroke="#383838" stroke-width="3" stroke-linecap="round" stroke-linejoin="round" fill="none"/>
<path d="M200,150 L220,175" stroke="#383838" stroke-width="3" stroke-linecap="round" stroke-linejoin="round" fill="none"/>
<path d="M110,170 L135,185" stroke="#383838" stroke-width="3" stroke-linecap="round" stroke-linejoin="round" fill="none"/>
<path d="M22.4,182.7 L48.4,178.2" stroke="#808080" stroke-width="22" stroke-linecap="round" stroke-linejoin="round" fill="none" filter="url(#bl2)"/>
<path d="M29.9,153.2 L61.8,152.6" stroke="#808080" stroke-width="22" stroke-linecap="round" stroke-linejoin="round" fill="none" filter="url(#bl2)"/>
<path d="M38.9,123.9 L76.1,129.6" stroke="#808080" stroke-width="22" stroke-linecap="round" stroke-linejoin="round" fill="none" filter="url(#bl2)"/>
<path d="M53.6,97.1 L81.3,106.5" stroke="#808080" stroke-width="22" stroke-linecap="round" stroke-linejoin="round" fill="none" filter="url(#bl2)"/>
<path d="M72.3,72.9 L102.7,89.9" stroke="#808080" stroke-width="22" stroke-linecap="round" stroke-linejoin="round" fill="none" filter="url(#bl2)"/>
<path d="M93.6,50.7 L113.7,67.9" stroke="#808080" stroke-width="22" stroke-linecap="round" stroke-linejoin="round" fill="none" filter="url(#bl2)"/>
<path d="M117.4,31.2 L137.1,56.5" stroke="#808080" stroke-width="22" stroke-linecap="round" stroke-linejoin="round" fill="none" filter="url(#bl2)"/>
<path d="M146.0,21.8 L162.8,55.4" stroke="#808080" stroke-width="22" stroke-linecap="round" stroke-linejoin="round" fill="none" filter="url(#bl2)"/>
<path d="M172.3,18.5 L180.3,46.6" stroke="#808080" stroke-width="22" stroke-linecap="round" stroke-linejoin="round" fill="none" filter="url(#bl2)"/>
<path d="M202.1,19.4 L204.2,54.1" stroke="#808080" stroke-width="22" stroke-linecap="round" stroke-linejoin="round" fill="none" filter="url(#bl2)"/>
<path d="M230.9,22.6 L226.6,48.7" stroke="#808080" stroke-width="22" stroke-linecap="round" stroke-linejoin="round" fill="none" filter="url(#bl2)"/>
<path d="M254.3,40.8 L242.2,70.5" stroke="#808080" stroke-width="22" stroke-linecap="round" stroke-linejoin="round" fill="none" filter="url(#bl2)"/>
<path d="M284.2,40.4 L263.2,71.5" stroke="#808080" stroke-width="22" stroke-linecap="round" stroke-linejoin="round" fill="none" filter="url(#bl2)"/>
<path d="M312.4,52.7 L291.3,72.8" stroke="#808080" stroke-width="22" stroke-linecap="round" stroke-linejoin="round" fill="none" filter="url(#bl2)"/>
<path d="M338.6,68.6 L309.2,87.2" stroke="#808080" stroke-width="22" stroke-linecap="round" stroke-linejoin="round" fill="none" filter="url(#bl2)"/>
<path d="M362.2,88.0 L337.8,98.0" stroke="#808080" stroke-width="22" stroke-linecap="round" stroke-linejoin="round" fill="none" filter="url(#bl2)"/>
<path d="M383.2,110.3 L352.0,117.4" stroke="#808080" stroke-width="22" stroke-linecap="round" stroke-linejoin="round" fill="none" filter="url(#bl2)"/>
<path d="M400.8,135.2 L363.3,138.1" stroke="#808080" stroke-width="22" stroke-linecap="round" stroke-linejoin="round" fill="none" filter="url(#bl2)"/>
<path d="M413.6,162.7 L384.4,160.9" stroke="#808080" stroke-width="22" stroke-linecap="round" stroke-linejoin="round" fill="none" filter="url(#bl2)"/>
<path d="M417.9,192.9 L383.8,185.9" stroke="#808080" stroke-width="22" stroke-linecap="round" stroke-linejoin="round" fill="none" filter="url(#bl2)"/>
<path d="M420.0,222.5 L395.0,213.9" stroke="#808080" stroke-width="22" stroke-linecap="round" stroke-linejoin="round" fill="none" filter="url(#bl2)"/>
<path d="M390.7,229.8 L361.4,216.8" stroke="#808080" stroke-width="22" stroke-linecap="round" stroke-linejoin="round" fill="none" filter="url(#bl2)"/>
<path d="M23.7,216.3 L51.2,206.5" stroke="#808080" stroke-width="22" stroke-linecap="round" stroke-linejoin="round" fill="none" filter="url(#bl2)"/>
<path d="M22.4,182.7 L48.4,178.2" stroke="#383838" stroke-width="3" stroke-linecap="round" stroke-linejoin="round" fill="none"/>
<path d="M29.9,153.2 L61.8,152.6" stroke="#383838" stroke-width="3" stroke-linecap="round" stroke-linejoin="round" fill="none"/>
<path d="M38.9,123.9 L76.1,129.6" stroke="#383838" stroke-width="3" stroke-linecap="round" stroke-linejoin="round" fill="none"/>
<path d="M53.6,97.1 L81.3,106.5" stroke="#383838" stroke-width="3" stroke-linecap="round" stroke-linejoin="round" fill="none"/>
<path d="M72.3,72.9 L102.7,89.9" stroke="#383838" stroke-width="3" stroke-linecap="round" stroke-linejoin="round" fill="none"/>
<path d="M93.6,50.7 L113.7,67.9" stroke="#383838" stroke-width="3" stroke-linecap="round" stroke-linejoin="round" fill="none"/>
<path d="M117.4,31.2 L137.1,56.5" stroke="#383838" stroke-width="3" stroke-linecap="round" stroke-linejoin="round" fill="none"/>
<path d="M146.0,21.8 L162.8,55.4" stroke="#383838" stroke-width="3" stroke-linecap="round" stroke-linejoin="round" fill="none"/>
<path d="M172.3,18.5 L180.3,46.6" stroke="#383838" stroke-width="3" stroke-linecap="round" stroke-linejoin="round" fill="none"/>
<path d="M202.1,19.4 L204.2,54.1" stroke="#383838" stroke-width="3" stroke-linecap="round" stroke-linejoin="round" fill="none"/>
<path d="M230.9,22.6 L226.6,48.7" stroke="#383838" stroke-width="3" stroke-linecap="round" stroke-linejoin="round" fill="none"/>
<path d="M254.3,40.8 L242.2,70.5" stroke="#383838" stroke-width="3" stroke-linecap="round" stroke-linejoin="round" fill="none"/>
<path d="M284.2,40.4 L263.2,71.5" stroke="#383838" stroke-width="3" stroke-linecap="round" stroke-linejoin="round" fill="none"/>
<path d="M312.4,52.7 L291.3,72.8" stroke="#383838" stroke-width="3" stroke-linecap="round" stroke-linejoin="round" fill="none"/>
<path d="M338.6,68.6 L309.2,87.2" stroke="#383838" stroke-width="3" stroke-linecap="round" stroke-linejoin="round" fill="none"/>
<path d="M362.2,88.0 L337.8,98.0" stroke="#383838" stroke-width="3" stroke-linecap="round" stroke-linejoin="round" fill="none"/>
<path d="M383.2,110.3 L352.0,117.4" stroke="#383838" stroke-width="3" stroke-linecap="round" stroke-linejoin="round" fill="none"/>
<path d="M400.8,135.2 L363.3,138.1" stroke="#383838" stroke-width="3" stroke-linecap="round" stroke-linejoin="round" fill="none"/>
<path d="M413.6,162.7 L384.4,160.9" stroke="#383838" stroke-width="3" stroke-linecap="round" stroke-linejoin="round" fill="none"/>
<path d="M417.9,192.9 L383.8,185.9" stroke="#383838" stroke-width="3" stroke-linecap="round" stroke-linejoin="round" fill="none"/>
<path d="M420.0,222.5 L395.0,213.9" stroke="#383838" stroke-width="3" stroke-linecap="round" stroke-linejoin="round" fill="none"/>
<path d="M390.7,229.8 L361.4,216.8" stroke="#383838" stroke-width="3" stroke-linecap="round" stroke-linejoin="round" fill="none"/>
<path d="M23.7,216.3 L51.2,206.5" stroke="#383838" stroke-width="3" stroke-linecap="round" stroke-linejoin="round" fill="none"/>
<path d="M134,196 L166,204" stroke="#fafafa" stroke-width="6" stroke-linecap="round"/>
</g>
<path d="M25,197 C25.0,190.5 25.8,181.3 27.0,175.0 C28.2,168.7 29.2,168.0 32.0,159.0 C34.8,150.0 38.8,132.7 44.0,121.0 C49.2,109.3 56.5,98.0 63.0,89.0 C69.5,80.0 76.5,73.8 83.0,67.0 C89.5,60.2 94.7,54.3 102.0,48.0 C109.3,41.7 119.0,32.8 127.0,29.0 C135.0,25.2 144.7,24.7 150.0,25.0 C155.3,25.3 156.2,31.0 159.0,31.0 C161.8,31.0 163.7,26.8 167.0,25.0 C170.3,23.2 174.5,20.2 179.0,20.0 C183.5,19.8 190.5,23.3 194.0,24.0 C197.5,24.7 196.7,24.7 200.0,24.0 C203.3,23.3 209.2,19.8 214.0,20.0 C218.8,20.2 225.0,22.3 229.0,25.0 C233.0,27.7 234.5,32.7 238.0,36.0 C241.5,39.3 243.8,44.2 250.0,45.0 C256.2,45.8 266.5,40.0 275.0,41.0 C283.5,42.0 292.5,47.2 301.0,51.0 C309.5,54.8 317.5,58.7 326.0,64.0 C334.5,69.3 343.5,75.7 352.0,83.0 C360.5,90.3 369.7,99.5 377.0,108.0 C384.3,116.5 390.7,125.5 396.0,134.0 C401.3,142.5 406.0,149.7 409.0,159.0 C412.0,168.3 413.2,182.3 414.0,190.0 C414.8,197.7 413.5,199.8 414.0,205.0 C414.5,210.2 419.3,217.7 417.0,221.0 C414.7,224.3 408.3,223.0 400.0,225.0 C391.7,227.0 378.8,230.3 367.0,233.0 C355.2,235.7 339.8,237.8 329.0,241.0 C318.2,244.2 310.2,252.0 302.0,252.0 C293.8,252.0 281.8,240.2 280.0,241.0 C278.2,241.8 286.5,252.0 291.0,257.0 C295.5,262.0 303.0,267.3 307.0,271.0 C311.0,274.7 314.5,274.8 315.0,279.0 C315.5,283.2 315.0,291.5 310.0,296.0 C305.0,300.5 293.7,302.5 285.0,306.0 C276.3,309.5 266.2,315.7 258.0,317.0 C249.8,318.3 243.3,317.5 236.0,314.0 C228.7,310.5 221.2,303.7 214.0,296.0 C206.8,288.3 199.5,274.3 193.0,268.0 C186.5,261.7 182.2,261.0 175.0,258.0 C167.8,255.0 160.8,252.0 150.0,250.0 C139.2,248.0 123.2,247.0 110.0,246.0 C96.8,245.0 80.2,244.0 71.0,244.0 C61.8,244.0 60.5,247.3 55.0,246.0 C49.5,244.7 42.7,241.3 38.0,236.0 C33.3,230.7 29.2,220.5 27.0,214.0 C24.8,207.5 25.0,203.5 25.0,197.0Z" fill="none" stroke="#2a2a2a" stroke-width="2.8"/>
<path d="M49,261 C49.2,254.5 46.5,251.8 52.0,249.0 C57.5,246.2 68.5,243.7 82.0,244.0 C95.5,244.3 117.8,247.7 133.0,251.0 C148.2,254.3 165.2,259.5 173.0,264.0 C180.8,268.5 179.3,273.5 180.0,278.0 C180.7,282.5 180.3,288.0 177.0,291.0 C173.7,294.0 161.2,293.7 160.0,296.0 C158.8,298.3 168.8,300.7 170.0,305.0 C171.2,309.3 170.3,317.0 167.0,322.0 C163.7,327.0 157.3,331.2 150.0,335.0 C142.7,338.8 131.5,343.7 123.0,345.0 C114.5,346.3 106.8,345.2 99.0,343.0 C91.2,340.8 82.7,337.2 76.0,332.0 C69.3,326.8 63.2,319.3 59.0,312.0 C54.8,304.7 52.7,296.5 51.0,288.0 C49.3,279.5 48.8,267.5 49.0,261.0Z" fill="#8e8e8e"/>
<g clip-path="url(#ccer)">
<path d="M152,294 Q102.0,272.0 52,262" stroke="#c4c4c4" stroke-width="5" fill="none" filter="url(#bl4)"/>
<path d="M152,294 Q103.5,283.5 55,285" stroke="#c4c4c4" stroke-width="5" fill="none" filter="url(#bl4)"/>
<path d="M152,294 Q107.0,296.0 62,310" stroke="#c4c4c4" stroke-width="5" fill="none" filter="url(#bl4)"/>
<path d="M152,294 Q116.0,307.0 80,332" stroke="#c4c4c4" stroke-width="5" fill="none" filter="url(#bl4)"/>
<path d="M152,294 Q128.5,313.0 105,344" stroke="#c4c4c4" stroke-width="5" fill="none" filter="url(#bl4)"/>
<path d="M152,294 Q141.0,312.0 130,342" stroke="#c4c4c4" stroke-width="5" fill="none" filter="url(#bl4)"/>
<path d="M152,294 Q151.0,309.0 150,336" stroke="#c4c4c4" stroke-width="5" fill="none" filter="url(#bl4)"/>
<path d="M152,294 Q158.5,300.0 165,318" stroke="#c4c4c4" stroke-width="5" fill="none" filter="url(#bl4)"/>
<path d="M152,294 Q121.0,266.0 90,250" stroke="#c4c4c4" stroke-width="5" fill="none" filter="url(#bl4)"/>
<path d="M152,294 Q138.5,267.0 125,252" stroke="#c4c4c4" stroke-width="5" fill="none" filter="url(#bl4)"/>
<path d="M137,291 Q101.0,277.0 50,272" stroke="#6e6e6e" stroke-width="3" fill="none" filter="url(#bl4)"/>
<path d="M137,291 Q104.5,290.0 57,298" stroke="#6e6e6e" stroke-width="3" fill="none" filter="url(#bl4)"/>
<path d="M137,291 Q111.0,302.0 70,322" stroke="#6e6e6e" stroke-width="3" fill="none" filter="url(#bl4)"/>
<path d="M137,291 Q122.0,310.5 92,339" stroke="#6e6e6e" stroke-width="3" fill="none" filter="url(#bl4)"/>
<path d="M137,291 Q134.5,313.5 117,345" stroke="#6e6e6e" stroke-width="3" fill="none" filter="url(#bl4)"/>
<path d="M137,291 Q146.0,311.0 140,340" stroke="#6e6e6e" stroke-width="3" fill="none" filter="url(#bl4)"/>
<path d="M137,291 Q155.0,305.0 158,328" stroke="#6e6e6e" stroke-width="3" fill="none" filter="url(#bl4)"/>
<path d="M137,291 Q111.0,266.0 70,250" stroke="#6e6e6e" stroke-width="3" fill="none" filter="url(#bl4)"/>
<path d="M137,291 Q130.0,265.0 108,248" stroke="#6e6e6e" stroke-width="3" fill="none" filter="url(#bl4)"/>
<path d="M88,275 Q120,282 152,294" stroke="#f2f2f2" stroke-width="9" stroke-linecap="round" fill="none" filter="url(#bl2)"/>
</g>
<path d="M49,261 C49.2,254.5 46.5,251.8 52.0,249.0 C57.5,246.2 68.5,243.7 82.0,244.0 C95.5,244.3 117.8,247.7 133.0,251.0 C148.2,254.3 165.2,259.5 173.0,264.0 C180.8,268.5 179.3,273.5 180.0,278.0 C180.7,282.5 180.3,288.0 177.0,291.0 C173.7,294.0 161.2,293.7 160.0,296.0 C158.8,298.3 168.8,300.7 170.0,305.0 C171.2,309.3 170.3,317.0 167.0,322.0 C163.7,327.0 157.3,331.2 150.0,335.0 C142.7,338.8 131.5,343.7 123.0,345.0 C114.5,346.3 106.8,345.2 99.0,343.0 C91.2,340.8 82.7,337.2 76.0,332.0 C69.3,326.8 63.2,319.3 59.0,312.0 C54.8,304.7 52.7,296.5 51.0,288.0 C49.3,279.5 48.8,267.5 49.0,261.0Z" fill="none" stroke="#2a2a2a" stroke-width="2.8"/>
<path d="M135,70 L215,72 L218,110 L215,145 L160,152 L138,140 L135,110Z" fill="#4b4fa4" fill-opacity="0.92"/>
<path d="M172,42 C180.7,39.0 221.7,39.3 231.0,42.0 C240.3,44.7 229.7,51.0 228.0,58.0 C226.3,65.0 223.7,77.7 221.0,84.0 C218.3,90.3 215.0,93.8 212.0,96.0 C209.0,98.2 206.5,99.0 203.0,97.0 C199.5,95.0 195.0,90.2 191.0,84.0 C187.0,77.8 182.2,67.0 179.0,60.0 C175.8,53.0 163.3,45.0 172.0,42.0Z" fill="#ebe222" stroke="#e84a14" stroke-width="5"/>
<path d="M172,42 C180.7,39.0 221.7,39.3 231.0,42.0 C240.3,44.7 229.7,51.0 228.0,58.0 C226.3,65.0 223.7,77.7 221.0,84.0 C218.3,90.3 215.0,93.8 212.0,96.0 C209.0,98.2 206.5,99.0 203.0,97.0 C199.5,95.0 195.0,90.2 191.0,84.0 C187.0,77.8 182.2,67.0 179.0,60.0 C175.8,53.0 163.3,45.0 172.0,42.0Z" fill="none" stroke="#f5a018" stroke-width="2"/>
</g>
<text x="553.7" y="220.9" font-size="8.7" fill="#444">P</text>
<defs><linearGradient id="gb" x1="0" x2="1"><stop offset="0" stop-color="#000"/><stop offset="0.12" stop-color="#08081a"/><stop offset="0.3" stop-color="#2a2a66"/><stop offset="0.55" stop-color="#30338c"/><stop offset="0.8" stop-color="#3a46a0"/><stop offset="1" stop-color="#4a5bb0"/></linearGradient><linearGradient id="gr" x1="0" x2="1"><stop offset="0" stop-color="#d41f2a"/><stop offset="0.3" stop-color="#de4025"/><stop offset="0.55" stop-color="#ea7d25"/><stop offset="0.8" stop-color="#f0b51f"/><stop offset="1" stop-color="#efe535"/></linearGradient></defs>
<rect x="562.9" y="285.8" width="121.2" height="7" fill="url(#gb)"/>
<rect x="562.9" y="318.7" width="121.2" height="7.3" fill="url(#gr)"/>
<text x="563.16" y="304.10" font-size="11.8" font-weight="normal" font-style="normal" fill="#666" textLength="6.06" lengthAdjust="spacingAndGlyphs" >0</text>
<text x="669.37" y="304.10" font-size="11.8" font-weight="normal" font-style="normal" fill="#666" textLength="14.07" lengthAdjust="spacingAndGlyphs" >25</text>
<text x="587.17" y="309.50" font-size="13.2" font-weight="bold" font-style="normal" fill="#000" textLength="72.04" lengthAdjust="spacingAndGlyphs" >participants</text>
<text x="563.10" y="336.60" font-size="11.8" font-weight="normal" font-style="normal" fill="#666" textLength="24.47" lengthAdjust="spacingAndGlyphs" >0.54</text>
<text x="661.21" y="336.60" font-size="11.8" font-weight="normal" font-style="normal" fill="#666" textLength="23.76" lengthAdjust="spacingAndGlyphs" >0.90</text>
<text x="587.92" y="350.00" font-size="13.2" font-weight="bold" font-style="normal" fill="#000" textLength="71.42" lengthAdjust="spacingAndGlyphs" >BOLD (a.u.)</text>
</svg></body></html>
